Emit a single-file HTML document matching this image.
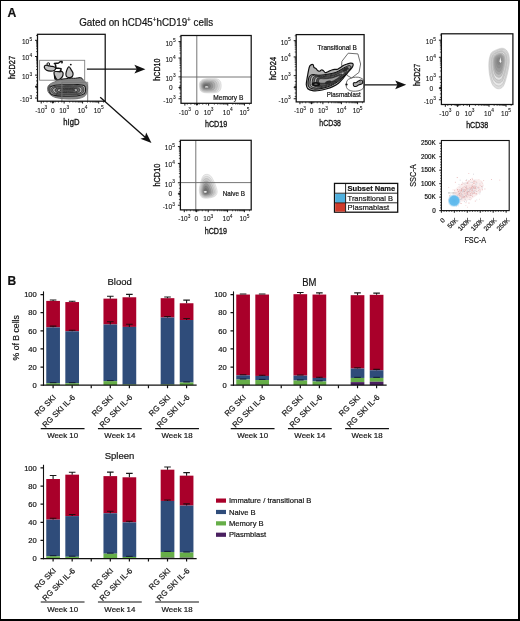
<!DOCTYPE html>
<html><head><meta charset="utf-8"><style>
html,body{margin:0;padding:0;background:#fff;}
body{width:520px;height:621px;overflow:hidden;position:relative;font-family:"Liberation Sans",sans-serif;}
svg{position:absolute;left:0;top:0;display:block;will-change:transform;}
text{stroke:#1a1a1a;stroke-width:0.2px;}
.frame{position:absolute;left:0;top:0;width:520px;height:621px;box-sizing:border-box;border-style:solid;border-color:#000;border-width:1.5px 2px 2px 1.5px;}
</style></head><body>
<svg width="520" height="621" viewBox="0 0 520 621" font-family="'Liberation Sans', sans-serif" fill="#111"><rect x="0" y="0" width="520" height="621" fill="#fff"/><text x="7.5" y="17.1" font-size="12.2" font-weight="bold">A</text><text x="79.2" y="25.8" font-size="10" textLength="134" lengthAdjust="spacingAndGlyphs">Gated on hCD45<tspan font-size="6.5" dy="-3.8">+</tspan><tspan dy="3.8">hCD19</tspan><tspan font-size="6.5" dy="-3.8">+</tspan><tspan dy="3.8"> cells</tspan></text><path d="M47.7,87.3 C47.95,86.13 48.62,85.3 49.5,84.5 C50.38,83.7 51.83,83.05 53,82.5 C54.17,81.95 55.53,81.65 56.5,81.2 C57.47,80.75 57.88,80.17 58.8,79.8 C59.72,79.43 60.8,79.1 62,79 C63.2,78.9 64.67,79.27 66,79.2 C67.33,79.13 68.67,78.65 70,78.6 C71.33,78.55 72.67,78.9 74,78.9 C75.33,78.9 76.8,78.68 78,78.6 C79.2,78.52 80.37,78.23 81.2,78.4 C82.03,78.57 82.32,79.03 83,79.6 C83.68,80.17 84.58,80.93 85.3,81.8 C86.02,82.67 86.92,83.6 87.3,84.8 C87.68,86 87.72,87.55 87.6,89 C87.48,90.45 87.2,92.23 86.6,93.5 C86,94.77 85.35,95.77 84,96.6 C82.65,97.43 80.55,98.1 78.5,98.5 C76.45,98.9 74.12,98.95 71.7,99 C69.28,99.05 66.62,99.03 64,98.8 C61.38,98.57 58.17,98.2 56,97.6 C53.83,97 52.33,96.22 51,95.2 C49.67,94.18 48.55,92.82 48,91.5 C47.45,90.18 47.45,88.47 47.7,87.3Z" fill="#a0a0a0" stroke="#5a5a5a" stroke-width="0.8"/><path d="M48.51,87.47 C48.75,86.42 49.39,85.67 50.24,84.95 C51.09,84.23 52.48,83.65 53.6,83.15 C54.72,82.66 56.03,82.39 56.96,81.98 C57.89,81.58 58.29,81.05 59.17,80.72 C60.05,80.39 61.09,80.09 62.24,80 C63.39,79.91 64.8,80.24 66.08,80.18 C67.36,80.12 68.64,79.69 69.92,79.64 C71.2,79.59 72.48,79.91 73.76,79.91 C75.04,79.91 76.45,79.72 77.6,79.64 C78.75,79.56 79.87,79.31 80.67,79.46 C81.47,79.61 81.74,80.03 82.4,80.54 C83.06,81.05 83.92,81.74 84.61,82.52 C85.3,83.3 86.16,84.14 86.53,85.22 C86.9,86.3 86.93,87.69 86.82,89 C86.7,90.31 86.43,91.91 85.86,93.05 C85.28,94.19 84.66,95.09 83.36,95.84 C82.06,96.59 80.05,97.19 78.08,97.55 C76.11,97.91 73.87,97.95 71.55,98 C69.23,98.05 66.67,98.03 64.16,97.82 C61.65,97.61 58.56,97.28 56.48,96.74 C54.4,96.2 52.96,95.5 51.68,94.58 C50.4,93.66 49.33,92.44 48.8,91.25 C48.27,90.06 48.27,88.52 48.51,87.47Z" fill="#8a8a8a" stroke="#777" stroke-width="0.5"/><path d="M49,90 C48.83,88.73 49.5,87.6 50.5,86.8 C51.5,86 53.08,85.53 55,85.2 C56.92,84.87 59.5,84.85 62,84.8 C64.5,84.75 67.33,84.93 70,84.9 C72.67,84.87 75.67,84.48 78,84.6 C80.33,84.72 82.73,84.87 84,85.6 C85.27,86.33 85.55,87.67 85.6,89 C85.65,90.33 85.57,92.47 84.3,93.6 C83.03,94.73 80.72,95.37 78,95.8 C75.28,96.23 71.33,96.18 68,96.2 C64.67,96.22 60.75,96.2 58,95.9 C55.25,95.6 53,95.38 51.5,94.4 C50,93.42 49.17,91.27 49,90Z" fill="#b8b8b8" stroke="#1a1a1a" stroke-width="1.1"/><path d="M50.85,90.06 C50.7,89.05 51.3,88.14 52.2,87.5 C53.1,86.86 54.52,86.49 56.25,86.22 C57.98,85.95 60.3,85.94 62.55,85.9 C64.8,85.86 67.35,86.01 69.75,85.98 C72.15,85.95 74.85,85.65 76.95,85.74 C79.05,85.83 81.21,85.95 82.35,86.54 C83.49,87.13 83.74,88.19 83.79,89.26 C83.83,90.33 83.76,92.03 82.62,92.94 C81.48,93.85 79.4,94.35 76.95,94.7 C74.5,95.05 70.95,95.01 67.95,95.02 C64.95,95.03 61.43,95.02 58.95,94.78 C56.48,94.54 54.45,94.37 53.1,93.58 C51.75,92.79 51,91.07 50.85,90.06Z" fill="#808080" stroke="#1a1a1a" stroke-width="0.7"/><path d="M52.7,90.11 C52.57,89.33 53.1,88.63 53.9,88.13 C54.7,87.63 55.97,87.34 57.5,87.14 C59.03,86.93 61.1,86.92 63.1,86.89 C65.1,86.86 67.37,86.97 69.5,86.95 C71.63,86.93 74.03,86.69 75.9,86.77 C77.77,86.84 79.69,86.93 80.7,87.39 C81.71,87.84 81.94,88.67 81.98,89.49 C82.02,90.32 81.95,91.64 80.94,92.35 C79.93,93.05 78.07,93.44 75.9,93.71 C73.73,93.98 70.57,93.95 67.9,93.96 C65.23,93.97 62.1,93.96 59.9,93.77 C57.7,93.59 55.9,93.45 54.7,92.84 C53.5,92.23 52.83,90.9 52.7,90.11Z" fill="#b8b8b8" stroke="#1a1a1a" stroke-width="0.7"/><path d="M54.92,90.16 C54.81,89.58 55.26,89.06 55.94,88.69 C56.62,88.32 57.7,88.11 59,87.95 C60.3,87.8 62.06,87.79 63.76,87.77 C65.46,87.75 67.39,87.83 69.2,87.82 C71.01,87.8 73.05,87.62 74.64,87.68 C76.23,87.73 77.86,87.8 78.72,88.14 C79.58,88.48 79.77,89.09 79.81,89.7 C79.84,90.32 79.79,91.3 78.92,91.82 C78.06,92.34 76.49,92.63 74.64,92.83 C72.79,93.03 70.11,93.01 67.84,93.01 C65.57,93.02 62.91,93.01 61.04,92.88 C59.17,92.74 57.64,92.64 56.62,92.19 C55.6,91.73 55.03,90.74 54.92,90.16Z" fill="#6a6a6a" stroke="#1a1a1a" stroke-width="0.7"/><path d="M57.33,90.2 C57.23,89.8 57.6,89.44 58.15,89.18 C58.7,88.92 59.57,88.77 60.62,88.67 C61.68,88.56 63.1,88.56 64.47,88.54 C65.85,88.52 67.41,88.58 68.88,88.57 C70.34,88.56 71.99,88.44 73.28,88.48 C74.56,88.51 75.88,88.56 76.58,88.8 C77.27,89.03 77.43,89.46 77.45,89.88 C77.48,90.31 77.44,90.99 76.74,91.36 C76.04,91.72 74.77,91.92 73.28,92.06 C71.78,92.2 69.61,92.18 67.78,92.19 C65.94,92.19 63.79,92.19 62.27,92.09 C60.76,92 59.53,91.93 58.7,91.61 C57.88,91.3 57.42,90.61 57.33,90.2Z" fill="#b0b0b0" stroke="#1a1a1a" stroke-width="0.7"/><path d="M60.1,90.25 C60.03,90.02 60.3,89.81 60.7,89.67 C61.1,89.53 61.73,89.44 62.5,89.38 C63.27,89.32 64.3,89.32 65.3,89.31 C66.3,89.3 67.43,89.33 68.5,89.33 C69.57,89.32 70.77,89.25 71.7,89.27 C72.63,89.3 73.59,89.32 74.1,89.45 C74.61,89.59 74.72,89.83 74.74,90.07 C74.76,90.31 74.73,90.69 74.22,90.89 C73.71,91.1 72.79,91.21 71.7,91.29 C70.61,91.37 69.03,91.36 67.7,91.36 C66.37,91.36 64.8,91.36 63.7,91.31 C62.6,91.25 61.7,91.22 61.1,91.04 C60.5,90.86 60.17,90.47 60.1,90.25Z" fill="#555" stroke="#1a1a1a" stroke-width="0.7"/><path d="M44.3,67.3 C44.13,66.48 44.98,65.58 45.6,65.3 C46.22,65.02 47.1,65.43 48,65.6 C48.9,65.77 50,66.1 51,66.3 C52,66.5 53.23,66.48 54,66.8 C54.77,67.12 55.57,67.6 55.6,68.2 C55.63,68.8 55.02,69.92 54.2,70.4 C53.38,70.88 51.97,71.13 50.7,71.1 C49.43,71.07 47.67,70.83 46.6,70.2 C45.53,69.57 44.47,68.12 44.3,67.3Z" fill="#c2c2c2" stroke="#111" stroke-width="1.2"/><circle cx="48.3" cy="64.1" r="1.35" fill="#e0e0e0" stroke="#111" stroke-width="1"/><path d="M54.2,71.8 C54.8,71.15 56.63,71.6 58,71.6 C59.37,71.6 61.58,71.15 62.4,71.8 C63.22,72.45 63.22,74.33 62.9,75.5 C62.58,76.67 61.4,78.05 60.5,78.8 C59.6,79.55 58.38,79.88 57.5,80 C56.62,80.12 55.72,80.25 55.2,79.5 C54.68,78.75 54.57,76.78 54.4,75.5 C54.23,74.22 53.6,72.45 54.2,71.8Z" fill="#bcbcbc" stroke="#111" stroke-width="1.2"/><path d="M54.4,63.6 C56,63.3 57.6,63.4 58.4,63.1 C59.4,62.7 60.2,61.2 61.4,61.3 C62.3,61.4 62.4,62.3 61.8,62.8 M55.3,63.8 C55.6,65.6 55.8,67.2 56.2,68.3 C57.6,68.3 59.5,68 61,68.6 C61.3,69.6 60.8,70.8 60,71.6" stroke="#111" stroke-width="1.5" fill="none" stroke-linecap="round"/><path d="M68.8,66.8 C69.63,66.4 70.5,68.73 71.2,69.8 C71.9,70.87 72.82,72.08 73,73.2 C73.18,74.32 73,75.77 72.3,76.5 C71.6,77.23 69.82,77.68 68.8,77.6 C67.78,77.52 66.63,76.9 66.2,76 C65.77,75.1 65.77,73.73 66.2,72.2 C66.63,70.67 67.97,67.2 68.8,66.8Z" fill="#c0c0c0" stroke="#111" stroke-width="1.2"/><circle cx="70.8" cy="64.6" r="0.9" fill="#111"/><path d="M60.5,79.6 C63,78.8 65,79 67,78.6 C69,78.2 71,77.9 73.5,78.3 C76,78.6 78.5,77.4 80.5,77.6 C81.8,77.8 82.4,78.6 82.4,79.6" stroke="#111" stroke-width="1" fill="none"/><path d="M54.2,75.5 C54.6,77.5 55.2,79.3 56.2,80.6 L58.4,80.2 C57.2,79.2 56,77.6 55.4,75.6 Z" fill="#111"/><path d="M47.8,88 C48.2,86.2 49.2,85 50.2,84.4 L50.6,92.8 C49.4,92 48.2,90.4 47.8,88 Z" fill="#555"/><rect x="39.6" y="60.3" width="45.1" height="19.9" fill="none" stroke="#808080" stroke-width="0.9"/><path d="M61.9,101.2 V82.3 H87.7 V101.2" stroke="#777" stroke-width="0.9" fill="none"/><path d="M41.22,101.2v2.3 M37.5,98.06h-2.5 M52.8,101.2v2.3 M37.5,86.68h-2.5 M64.11,101.2v2.3 M37.5,75.11h-2.5 M82.59,101.2v2.3 M37.5,56.51h-2.5 M98.7,101.2v2.3 M37.5,40.32h-2.5" stroke="#111" stroke-width="0.95" fill="none"/><path d="M43.54,101.2v1.4 M37.5,95.78h-1.5 M47.01,101.2v1.4 M37.5,92.37h-1.5 M50.48,101.2v1.4 M37.5,88.96h-1.5 M55.06,101.2v1.4 M37.5,84.37h-1.5 M58.45,101.2v1.4 M37.5,80.9h-1.5 M61.84,101.2v1.4 M37.5,77.42h-1.5 M69.67,101.2v1.4 M37.5,69.51h-1.5 M72.92,101.2v1.4 M37.5,66.24h-1.5 M75.23,101.2v1.4 M37.5,63.91h-1.5 M77.02,101.2v1.4 M37.5,62.11h-1.5 M78.49,101.2v1.4 M37.5,60.64h-1.5 M79.73,101.2v1.4 M37.5,59.39h-1.5 M80.8,101.2v1.4 M37.5,58.31h-1.5 M81.74,101.2v1.4 M37.5,57.36h-1.5 M87.44,101.2v1.4 M37.5,51.64h-1.5 M90.28,101.2v1.4 M37.5,48.79h-1.5 M92.29,101.2v1.4 M37.5,46.76h-1.5 M93.85,101.2v1.4 M37.5,45.19h-1.5 M95.13,101.2v1.4 M37.5,43.91h-1.5 M96.2,101.2v1.4 M37.5,42.83h-1.5 M97.14,101.2v1.4 M37.5,41.89h-1.5 M97.96,101.2v1.4 M37.5,41.06h-1.5 M103.55,101.2v1.4 M37.5,35.45h-1.5" stroke="#111" stroke-width="0.7" fill="none"/><rect x="51.64" y="101.2" width="2.29" height="1.7" fill="#222"/><rect x="35.6" y="85.53" width="1.9" height="2.29" fill="#222"/><rect x="37.5" y="34.3" width="67.7" height="66.9" fill="none" stroke="#111" stroke-width="1.25"/><text x="41.22" y="112.5" font-size="6.5" text-anchor="middle" style="stroke-width:0.1px">-10<tspan font-size="4.8" dy="-3.4">3</tspan></text><text x="52.8" y="112.5" font-size="6.5" style="stroke-width:0.1px" text-anchor="middle">0</text><text x="64.11" y="112.5" font-size="6.5" text-anchor="middle" style="stroke-width:0.1px">10<tspan font-size="4.8" dy="-3.4">3</tspan></text><text x="82.59" y="112.5" font-size="6.5" text-anchor="middle" style="stroke-width:0.1px">10<tspan font-size="4.8" dy="-3.4">4</tspan></text><text x="98.7" y="112.5" font-size="6.5" text-anchor="middle" style="stroke-width:0.1px">10<tspan font-size="4.8" dy="-3.4">5</tspan></text><text x="29.2" y="101.96" font-size="6.5" style="stroke-width:0.1px" text-anchor="end">-10</text><text x="29.4" y="98.56" font-size="4.8" style="stroke-width:0.1px">3</text><text x="29.2" y="79.01" font-size="6.5" style="stroke-width:0.1px" text-anchor="end">10</text><text x="29.4" y="75.61" font-size="4.8" style="stroke-width:0.1px">3</text><text x="29.2" y="60.41" font-size="6.5" style="stroke-width:0.1px" text-anchor="end">10</text><text x="29.4" y="57.01" font-size="4.8" style="stroke-width:0.1px">4</text><text x="29.2" y="44.22" font-size="6.5" style="stroke-width:0.1px" text-anchor="end">10</text><text x="29.4" y="40.82" font-size="4.8" style="stroke-width:0.1px">5</text><text x="71.35" y="125" font-size="9.1" style="stroke-width:0.35px" text-anchor="middle" textLength="16.2" lengthAdjust="spacingAndGlyphs">hIgD</text><text x="15" y="67.45" font-size="9.1" style="stroke-width:0.35px" text-anchor="middle" textLength="23.2" lengthAdjust="spacingAndGlyphs" transform="rotate(-90 15 67.45)">hCD27</text><path d="M199.4,84 C199.55,82.23 200.4,81.08 201.5,80.2 C202.6,79.32 204.25,78.97 206,78.7 C207.75,78.43 210,78.52 212,78.6 C214,78.68 216.53,78.55 218,79.2 C219.47,79.85 220.3,81.03 220.8,82.5 C221.3,83.97 221.38,86.45 221,88 C220.62,89.55 220,91 218.5,91.8 C217,92.6 214.25,92.65 212,92.8 C209.75,92.95 206.9,93.03 205,92.7 C203.1,92.37 201.53,92.25 200.6,90.8 C199.67,89.35 199.25,85.77 199.4,84Z" fill="#e8e8e8" stroke="#c4c4c4" stroke-width="0.45"/><path d="M200.07,84.26 C200.2,82.71 200.95,81.7 201.92,80.92 C202.89,80.14 204.34,79.83 205.88,79.6 C207.42,79.37 209.4,79.44 211.16,79.51 C212.92,79.59 215.15,79.47 216.44,80.04 C217.73,80.61 218.46,81.65 218.9,82.94 C219.34,84.23 219.42,86.42 219.08,87.78 C218.74,89.15 218.2,90.42 216.88,91.13 C215.56,91.83 213.14,91.88 211.16,92.01 C209.18,92.14 206.67,92.21 205,91.92 C203.33,91.63 201.95,91.52 201.13,90.25 C200.31,88.97 199.94,85.82 200.07,84.26Z" fill="#d8d8d8" stroke="#bdbdbd" stroke-width="0.45"/><path d="M200.74,84.53 C200.86,83.19 201.5,82.31 202.34,81.64 C203.18,80.97 204.43,80.7 205.76,80.5 C207.09,80.3 208.8,80.36 210.32,80.42 C211.84,80.49 213.77,80.39 214.88,80.88 C215.99,81.37 216.63,82.27 217.01,83.39 C217.39,84.5 217.45,86.39 217.16,87.57 C216.87,88.75 216.4,89.85 215.26,90.46 C214.12,91.06 212.03,91.1 210.32,91.22 C208.61,91.33 206.44,91.39 205,91.14 C203.56,90.89 202.37,90.8 201.66,89.7 C200.95,88.59 200.63,85.87 200.74,84.53Z" fill="#c4c4c4" stroke="#aaa" stroke-width="0.45"/><path d="M201.53,84.84 C201.62,83.74 202.15,83.03 202.83,82.48 C203.51,81.93 204.53,81.72 205.62,81.55 C206.71,81.38 208.1,81.44 209.34,81.49 C210.58,81.54 212.15,81.46 213.06,81.86 C213.97,82.26 214.49,83 214.8,83.91 C215.11,84.82 215.16,86.36 214.92,87.32 C214.68,88.28 214.3,89.18 213.37,89.67 C212.44,90.17 210.74,90.2 209.34,90.29 C207.94,90.39 206.18,90.44 205,90.23 C203.82,90.02 202.85,89.95 202.27,89.05 C201.69,88.15 201.44,85.93 201.53,84.84Z" fill="#ababab" stroke="#999" stroke-width="0.45"/><path d="M202.31,85.14 C202.38,84.3 202.79,83.74 203.32,83.32 C203.85,82.9 204.64,82.73 205.48,82.6 C206.32,82.47 207.4,82.51 208.36,82.55 C209.32,82.59 210.54,82.53 211.24,82.84 C211.94,83.15 212.34,83.72 212.58,84.42 C212.82,85.13 212.86,86.32 212.68,87.06 C212.5,87.81 212.2,88.5 211.48,88.89 C210.76,89.27 209.44,89.3 208.36,89.37 C207.28,89.44 205.91,89.48 205,89.32 C204.09,89.16 203.34,89.1 202.89,88.41 C202.44,87.71 202.24,85.99 202.31,85.14Z" fill="#929292" stroke="#888" stroke-width="0.45"/><path d="M203.1,85.45 C203.15,84.85 203.44,84.46 203.81,84.16 C204.18,83.86 204.75,83.74 205.34,83.65 C205.94,83.56 206.7,83.59 207.38,83.62 C208.06,83.64 208.92,83.6 209.42,83.82 C209.92,84.04 210.2,84.44 210.37,84.94 C210.54,85.44 210.57,86.28 210.44,86.81 C210.31,87.34 210.1,87.83 209.59,88.1 C209.08,88.38 208.14,88.39 207.38,88.44 C206.62,88.5 205.65,88.52 205,88.41 C204.35,88.3 203.82,88.26 203.5,87.76 C203.19,87.27 203.05,86.05 203.1,85.45Z" fill="#7a7a7a" stroke="#777" stroke-width="0.45"/><path d="M203.88,85.76 C203.91,85.41 204.08,85.18 204.3,85 C204.52,84.82 204.85,84.75 205.2,84.7 C205.55,84.65 206,84.66 206.4,84.68 C206.8,84.7 207.31,84.67 207.6,84.8 C207.89,84.93 208.06,85.17 208.16,85.46 C208.26,85.75 208.28,86.25 208.2,86.56 C208.12,86.87 208,87.16 207.7,87.32 C207.4,87.48 206.85,87.49 206.4,87.52 C205.95,87.55 205.38,87.57 205,87.5 C204.62,87.43 204.31,87.41 204.12,87.12 C203.93,86.83 203.85,86.11 203.88,85.76Z" fill="#6a6a6a" stroke="#666" stroke-width="0.45"/><ellipse cx="206.6" cy="86.9" rx="1.8" ry="0.7" fill="#f4f4f4"/><line x1="196.8" y1="35.5" x2="196.8" y2="103.3" stroke="#666" stroke-width="0.9"/><line x1="181" y1="77" x2="251.2" y2="77" stroke="#666" stroke-width="0.9"/><text x="243.3" y="100.4" font-size="6.5" text-anchor="end" textLength="30" lengthAdjust="spacingAndGlyphs">Memory B</text><path d="M184.86,103.3v2.3 M181,98.76h-2.5 M196.87,103.3v2.3 M181,87.57h-2.5 M208.59,103.3v2.3 M181,76.86h-2.5 M227.75,103.3v2.3 M181,58.01h-2.5 M244.46,103.3v2.3 M181,41.6h-2.5" stroke="#111" stroke-width="0.95" fill="none"/><path d="M187.26,103.3v1.4 M181,96.52h-1.5 M190.86,103.3v1.4 M181,93.16h-1.5 M194.46,103.3v1.4 M181,89.81h-1.5 M199.21,103.3v1.4 M181,85.43h-1.5 M202.73,103.3v1.4 M181,82.21h-1.5 M206.24,103.3v1.4 M181,79h-1.5 M214.36,103.3v1.4 M181,71.18h-1.5 M217.73,103.3v1.4 M181,67.87h-1.5 M220.13,103.3v1.4 M181,65.51h-1.5 M221.98,103.3v1.4 M181,63.68h-1.5 M223.5,103.3v1.4 M181,62.19h-1.5 M224.78,103.3v1.4 M181,60.93h-1.5 M225.9,103.3v1.4 M181,59.84h-1.5 M226.88,103.3v1.4 M181,58.87h-1.5 M232.78,103.3v1.4 M181,53.07h-1.5 M235.72,103.3v1.4 M181,50.18h-1.5 M237.81,103.3v1.4 M181,48.13h-1.5 M239.43,103.3v1.4 M181,46.54h-1.5 M240.75,103.3v1.4 M181,45.24h-1.5 M241.87,103.3v1.4 M181,44.14h-1.5 M242.84,103.3v1.4 M181,43.19h-1.5 M243.7,103.3v1.4 M181,42.35h-1.5 M249.49,103.3v1.4 M181,36.66h-1.5" stroke="#111" stroke-width="0.7" fill="none"/><rect x="195.66" y="103.3" width="2.37" height="1.7" fill="#222"/><rect x="179.1" y="86.5" width="1.9" height="2.19" fill="#222"/><rect x="181" y="35.5" width="70.2" height="67.8" fill="none" stroke="#111" stroke-width="1.25"/><text x="184.86" y="114.6" font-size="6.5" text-anchor="middle" style="stroke-width:0.1px">-10<tspan font-size="4.8" dy="-3.4">3</tspan></text><text x="196.87" y="114.6" font-size="6.5" style="stroke-width:0.1px" text-anchor="middle">0</text><text x="208.59" y="114.6" font-size="6.5" text-anchor="middle" style="stroke-width:0.1px">10<tspan font-size="4.8" dy="-3.4">3</tspan></text><text x="227.75" y="114.6" font-size="6.5" text-anchor="middle" style="stroke-width:0.1px">10<tspan font-size="4.8" dy="-3.4">4</tspan></text><text x="244.46" y="114.6" font-size="6.5" text-anchor="middle" style="stroke-width:0.1px">10<tspan font-size="4.8" dy="-3.4">5</tspan></text><text x="172.7" y="102.66" font-size="6.5" style="stroke-width:0.1px" text-anchor="end">-10</text><text x="172.9" y="99.26" font-size="4.8" style="stroke-width:0.1px">3</text><text x="172.7" y="90.27" font-size="6.5" style="stroke-width:0.1px" text-anchor="end">0</text><text x="172.7" y="80.76" font-size="6.5" style="stroke-width:0.1px" text-anchor="end">10</text><text x="172.9" y="77.36" font-size="4.8" style="stroke-width:0.1px">3</text><text x="172.7" y="61.91" font-size="6.5" style="stroke-width:0.1px" text-anchor="end">10</text><text x="172.9" y="58.51" font-size="4.8" style="stroke-width:0.1px">4</text><text x="172.7" y="45.5" font-size="6.5" style="stroke-width:0.1px" text-anchor="end">10</text><text x="172.9" y="42.1" font-size="4.8" style="stroke-width:0.1px">5</text><text x="216.1" y="127.1" font-size="9.1" style="stroke-width:0.35px" text-anchor="middle" textLength="22.3" lengthAdjust="spacingAndGlyphs">hCD19</text><text x="160.3" y="69.6" font-size="9.1" style="stroke-width:0.35px" text-anchor="middle" textLength="22.2" lengthAdjust="spacingAndGlyphs" transform="rotate(-90 160.3 69.6)">hCD10</text><path d="M206.8,174.3 C207.97,174.35 209.38,174.77 210.5,175.8 C211.62,176.83 212.62,178.8 213.5,180.5 C214.38,182.2 215.18,184.05 215.8,186 C216.42,187.95 217.42,190.45 217.2,192.2 C216.98,193.95 216.33,195.48 214.5,196.5 C212.67,197.52 208.45,198.3 206.2,198.3 C203.95,198.3 202.15,197.83 201,196.5 C199.85,195.17 199.43,192.38 199.3,190.3 C199.17,188.22 199.83,185.8 200.2,184 C200.57,182.2 200.95,180.92 201.5,179.5 C202.05,178.08 202.62,176.37 203.5,175.5 C204.38,174.63 205.63,174.25 206.8,174.3Z" fill="#ececec" stroke="#c8c8c8" stroke-width="0.45"/><path d="M206.64,176.42 C207.67,176.47 208.92,176.83 209.9,177.74 C210.88,178.65 211.76,180.38 212.54,181.88 C213.32,183.38 214.02,185 214.56,186.72 C215.11,188.44 215.99,190.64 215.8,192.18 C215.61,193.72 215.03,195.07 213.42,195.96 C211.81,196.85 208.1,197.54 206.12,197.54 C204.14,197.54 202.55,197.13 201.54,195.96 C200.53,194.79 200.16,192.34 200.04,190.5 C199.93,188.67 200.51,186.54 200.84,184.96 C201.16,183.38 201.5,182.25 201.98,181 C202.46,179.75 202.96,178.24 203.74,177.48 C204.52,176.72 205.62,176.38 206.64,176.42Z" fill="#dedede" stroke="#bcbcbc" stroke-width="0.45"/><path d="M206.49,178.55 C207.37,178.59 208.45,178.9 209.3,179.69 C210.15,180.47 210.91,181.97 211.58,183.26 C212.25,184.55 212.86,185.96 213.33,187.44 C213.8,188.92 214.56,190.82 214.39,192.15 C214.23,193.48 213.73,194.65 212.34,195.42 C210.95,196.19 207.74,196.79 206.03,196.79 C204.32,196.79 202.95,196.43 202.08,195.42 C201.21,194.41 200.89,192.29 200.79,190.71 C200.69,189.12 201.19,187.29 201.47,185.92 C201.75,184.55 202.04,183.58 202.46,182.5 C202.88,181.42 203.31,180.12 203.98,179.46 C204.65,178.8 205.6,178.51 206.49,178.55Z" fill="#cacaca" stroke="#aaa" stroke-width="0.45"/><path d="M206.31,181.03 C207.03,181.06 207.91,181.32 208.6,181.96 C209.29,182.6 209.91,183.82 210.46,184.87 C211.01,185.92 211.5,187.07 211.89,188.28 C212.27,189.49 212.89,191.04 212.75,192.12 C212.62,193.21 212.22,194.16 211.08,194.79 C209.94,195.42 207.33,195.91 205.93,195.91 C204.54,195.91 203.42,195.62 202.71,194.79 C202,193.96 201.74,192.24 201.66,190.95 C201.57,189.65 201.99,188.16 202.21,187.04 C202.44,185.92 202.68,185.13 203.02,184.25 C203.36,183.37 203.71,182.31 204.26,181.77 C204.81,181.23 205.58,181 206.31,181.03Z" fill="#b0b0b0" stroke="#999" stroke-width="0.45"/><path d="M206.12,183.5 C206.68,183.53 207.36,183.73 207.9,184.22 C208.44,184.72 208.92,185.66 209.34,186.48 C209.76,187.3 210.15,188.18 210.44,189.12 C210.74,190.06 211.22,191.26 211.12,192.1 C211.01,192.94 210.7,193.67 209.82,194.16 C208.94,194.65 206.92,195.02 205.84,195.02 C204.76,195.02 203.89,194.8 203.34,194.16 C202.79,193.52 202.59,192.18 202.52,191.18 C202.46,190.18 202.78,189.02 202.96,188.16 C203.13,187.3 203.32,186.68 203.58,186 C203.84,185.32 204.12,184.5 204.54,184.08 C204.96,183.66 205.56,183.48 206.12,183.5Z" fill="#959595" stroke="#888" stroke-width="0.45"/><path d="M205.94,185.98 C206.34,186 206.82,186.14 207.2,186.49 C207.58,186.84 207.92,187.51 208.22,188.09 C208.52,188.67 208.79,189.3 209,189.96 C209.21,190.62 209.55,191.47 209.48,192.07 C209.4,192.66 209.18,193.18 208.56,193.53 C207.94,193.88 206.5,194.14 205.74,194.14 C204.97,194.14 204.36,193.98 203.97,193.53 C203.58,193.08 203.44,192.13 203.39,191.42 C203.35,190.71 203.57,189.89 203.7,189.28 C203.82,188.67 203.95,188.23 204.14,187.75 C204.33,187.27 204.52,186.68 204.82,186.39 C205.12,186.1 205.55,185.97 205.94,185.98Z" fill="#7e7e7e" stroke="#777" stroke-width="0.45"/><path d="M205.76,188.46 C205.99,188.47 206.28,188.55 206.5,188.76 C206.72,188.97 206.92,189.36 207.1,189.7 C207.28,190.04 207.44,190.41 207.56,190.8 C207.68,191.19 207.88,191.69 207.84,192.04 C207.8,192.39 207.67,192.7 207.3,192.9 C206.93,193.1 206.09,193.26 205.64,193.26 C205.19,193.26 204.83,193.17 204.6,192.9 C204.37,192.63 204.29,192.08 204.26,191.66 C204.23,191.24 204.37,190.76 204.44,190.4 C204.51,190.04 204.59,189.78 204.7,189.5 C204.81,189.22 204.92,188.87 205.1,188.7 C205.28,188.53 205.53,188.45 205.76,188.46Z" fill="#707070" stroke="#666" stroke-width="0.45"/><ellipse cx="205.3" cy="191.8" rx="1.6" ry="0.9" fill="#f2f2f2"/><line x1="195.8" y1="140.3" x2="195.8" y2="209.9" stroke="#666" stroke-width="0.9"/><line x1="180.4" y1="182.6" x2="251.2" y2="182.6" stroke="#666" stroke-width="0.9"/><text x="245" y="196.2" font-size="6.5" text-anchor="end" textLength="22.3" lengthAdjust="spacingAndGlyphs">Naive B</text><path d="M184.29,209.9v2.3 M180.4,205.24h-2.5 M196.4,209.9v2.3 M180.4,193.75h-2.5 M208.22,209.9v2.3 M180.4,182.76h-2.5 M227.55,209.9v2.3 M180.4,163.41h-2.5 M244.4,209.9v2.3 M180.4,146.56h-2.5" stroke="#111" stroke-width="0.95" fill="none"/><path d="M186.72,209.9v1.4 M180.4,202.94h-1.5 M190.35,209.9v1.4 M180.4,199.49h-1.5 M193.98,209.9v1.4 M180.4,196.05h-1.5 M198.77,209.9v1.4 M180.4,191.55h-1.5 M202.31,209.9v1.4 M180.4,188.25h-1.5 M205.86,209.9v1.4 M180.4,184.96h-1.5 M214.04,209.9v1.4 M180.4,176.93h-1.5 M217.45,209.9v1.4 M180.4,173.52h-1.5 M219.86,209.9v1.4 M180.4,171.11h-1.5 M221.73,209.9v1.4 M180.4,169.23h-1.5 M223.26,209.9v1.4 M180.4,167.7h-1.5 M224.56,209.9v1.4 M180.4,166.4h-1.5 M225.68,209.9v1.4 M180.4,165.28h-1.5 M226.67,209.9v1.4 M180.4,164.29h-1.5 M232.63,209.9v1.4 M180.4,158.34h-1.5 M235.59,209.9v1.4 M180.4,155.37h-1.5 M237.7,209.9v1.4 M180.4,153.27h-1.5 M239.33,209.9v1.4 M180.4,151.63h-1.5 M240.66,209.9v1.4 M180.4,150.3h-1.5 M241.79,209.9v1.4 M180.4,149.17h-1.5 M242.77,209.9v1.4 M180.4,148.2h-1.5 M243.63,209.9v1.4 M180.4,147.33h-1.5 M249.48,209.9v1.4 M180.4,141.49h-1.5" stroke="#111" stroke-width="0.7" fill="none"/><rect x="195.19" y="209.9" width="2.39" height="1.7" fill="#222"/><rect x="178.5" y="192.65" width="1.9" height="2.25" fill="#222"/><rect x="180.4" y="140.3" width="70.8" height="69.6" fill="none" stroke="#111" stroke-width="1.25"/><text x="184.29" y="221.2" font-size="6.5" text-anchor="middle" style="stroke-width:0.1px">-10<tspan font-size="4.8" dy="-3.4">3</tspan></text><text x="196.4" y="221.2" font-size="6.5" style="stroke-width:0.1px" text-anchor="middle">0</text><text x="208.22" y="221.2" font-size="6.5" text-anchor="middle" style="stroke-width:0.1px">10<tspan font-size="4.8" dy="-3.4">3</tspan></text><text x="227.55" y="221.2" font-size="6.5" text-anchor="middle" style="stroke-width:0.1px">10<tspan font-size="4.8" dy="-3.4">4</tspan></text><text x="244.4" y="221.2" font-size="6.5" text-anchor="middle" style="stroke-width:0.1px">10<tspan font-size="4.8" dy="-3.4">5</tspan></text><text x="172.1" y="209.14" font-size="6.5" style="stroke-width:0.1px" text-anchor="end">-10</text><text x="172.3" y="205.74" font-size="4.8" style="stroke-width:0.1px">3</text><text x="172.1" y="196.45" font-size="6.5" style="stroke-width:0.1px" text-anchor="end">0</text><text x="172.1" y="186.66" font-size="6.5" style="stroke-width:0.1px" text-anchor="end">10</text><text x="172.3" y="183.26" font-size="4.8" style="stroke-width:0.1px">3</text><text x="172.1" y="167.31" font-size="6.5" style="stroke-width:0.1px" text-anchor="end">10</text><text x="172.3" y="163.91" font-size="4.8" style="stroke-width:0.1px">4</text><text x="172.1" y="150.46" font-size="6.5" style="stroke-width:0.1px" text-anchor="end">10</text><text x="172.3" y="147.06" font-size="4.8" style="stroke-width:0.1px">5</text><text x="215.8" y="233.7" font-size="9.1" style="stroke-width:0.35px" text-anchor="middle" textLength="22.3" lengthAdjust="spacingAndGlyphs">hCD19</text><text x="160.3" y="175.1" font-size="9.1" style="stroke-width:0.35px" text-anchor="middle" textLength="22.9" lengthAdjust="spacingAndGlyphs" transform="rotate(-90 160.3 175.1)">hCD10</text><path d="M348.2,53.2 L357.9,53.9 L360.6,64 L359,72.4 L351.6,78 L347.1,75.4 L341.6,65 L341.9,61.3 Z" fill="none" stroke="#555" stroke-width="0.85"/><path d="M347.1,80.6 C347.73,79.45 348.98,79.12 350,78.6 C351.02,78.08 351.83,77.73 353.2,77.5 C354.57,77.27 356.68,76.98 358.2,77.2 C359.72,77.42 361.32,78.08 362.3,78.8 C363.28,79.52 363.88,80.05 364.1,81.5 C364.32,82.95 364.22,86.05 363.6,87.5 C362.98,88.95 361.75,89.58 360.4,90.2 C359.05,90.82 357.1,91.1 355.5,91.2 C353.9,91.3 352.17,91.2 350.8,90.8 C349.43,90.4 348.07,89.68 347.3,88.8 C346.53,87.92 346.23,86.87 346.2,85.5 C346.17,84.13 346.47,81.75 347.1,80.6Z" fill="none" stroke="#555" stroke-width="0.85"/><path d="M309.2,67.5 C309.68,65.97 310.05,65.57 310.7,65.1 C311.35,64.63 312.55,64.33 313.1,64.7 C313.65,65.07 313.53,66.67 314,67.3 C314.47,67.93 315.25,67.93 315.9,68.5 C316.55,69.07 317.25,70.25 317.9,70.7 C318.55,71.15 319.25,71.32 319.8,71.2 C320.35,71.08 320.63,70.13 321.2,70 C321.77,69.87 322.55,69.97 323.2,70.4 C323.85,70.83 324.47,72.3 325.1,72.6 C325.73,72.9 326.37,72.43 327,72.2 C327.63,71.97 328.1,71.57 328.9,71.2 C329.7,70.83 330.83,70.3 331.8,70 C332.77,69.7 333.73,69.52 334.7,69.4 C335.67,69.28 336.63,69.63 337.6,69.3 C338.57,68.97 339.55,68.03 340.5,67.4 C341.45,66.77 342.18,66.07 343.3,65.5 C344.42,64.93 346,64.38 347.2,64 C348.4,63.62 349.53,63.23 350.5,63.2 C351.47,63.17 352.65,63.2 353,63.8 C353.35,64.4 353.1,65.77 352.6,66.8 C352.1,67.83 350.9,68.92 350,70 C349.1,71.08 348.32,71.95 347.2,73.3 C346.08,74.65 344.75,76.45 343.3,78.1 C341.85,79.75 340.25,81.78 338.5,83.2 C336.75,84.62 334.88,85.63 332.8,86.6 C330.72,87.57 328.25,88.35 326,89 C323.75,89.65 321.53,90.23 319.3,90.5 C317.07,90.77 314.52,90.9 312.6,90.6 C310.68,90.3 308.85,89.67 307.8,88.7 C306.75,87.73 306.47,86.25 306.3,84.8 C306.13,83.35 306.55,81.75 306.8,80 C307.05,78.25 307.4,76.38 307.8,74.3 C308.2,72.22 308.72,69.03 309.2,67.5Z" fill="#b2b2b2" stroke="#111" stroke-width="1.2"/><path d="M308.4,80 C308.65,78.67 308.73,76.92 309.5,76 C310.27,75.08 311.58,74.63 313,74.5 C314.42,74.37 316.17,75.15 318,75.2 C319.83,75.25 322,75.03 324,74.8 C326,74.57 328,74.22 330,73.8 C332,73.38 334.17,73 336,72.3 C337.83,71.6 339.42,70.48 341,69.6 C342.58,68.72 344.08,67.67 345.5,67 C346.92,66.33 348.58,65.55 349.5,65.6 C350.42,65.65 351.17,66.4 351,67.3 C350.83,68.2 349.67,69.55 348.5,71 C347.33,72.45 345.75,74.25 344,76 C342.25,77.75 340.17,79.9 338,81.5 C335.83,83.1 333.5,84.48 331,85.6 C328.5,86.72 325.67,87.6 323,88.2 C320.33,88.8 317.23,89.3 315,89.2 C312.77,89.1 310.77,88.47 309.6,87.6 C308.43,86.73 308.2,85.27 308,84 C307.8,82.73 308.15,81.33 308.4,80Z" fill="#8a8a8a" stroke="#111" stroke-width="1"/><path d="M310.46,80.07 C310.68,78.92 310.76,77.42 311.45,76.63 C312.14,75.84 313.33,75.45 314.6,75.34 C315.88,75.23 317.45,75.9 319.1,75.94 C320.75,75.99 322.7,75.8 324.5,75.6 C326.3,75.4 328.1,75.1 329.9,74.74 C331.7,74.38 333.65,74.05 335.3,73.45 C336.95,72.85 338.38,71.89 339.8,71.13 C341.23,70.37 342.58,69.46 343.85,68.89 C345.12,68.32 346.62,67.64 347.45,67.69 C348.27,67.73 348.95,68.37 348.8,69.15 C348.65,69.92 347.6,71.08 346.55,72.33 C345.5,73.58 344.07,75.12 342.5,76.63 C340.93,78.13 339.05,79.98 337.1,81.36 C335.15,82.74 333.05,83.93 330.8,84.89 C328.55,85.85 326,86.61 323.6,87.12 C321.2,87.64 318.41,88.07 316.4,87.98 C314.39,87.9 312.59,87.35 311.54,86.61 C310.49,85.86 310.28,84.6 310.1,83.51 C309.92,82.42 310.24,81.22 310.46,80.07Z" fill="#c2c2c2" stroke="#151515" stroke-width="0.8"/><path d="M312.52,80.14 C312.72,79.18 312.79,77.92 313.4,77.26 C314.01,76.6 315.07,76.28 316.2,76.18 C317.33,76.08 318.73,76.65 320.2,76.68 C321.67,76.72 323.4,76.56 325,76.4 C326.6,76.23 328.2,75.98 329.8,75.68 C331.4,75.38 333.13,75.1 334.6,74.6 C336.07,74.09 337.33,73.29 338.6,72.65 C339.87,72.02 341.07,71.26 342.2,70.78 C343.33,70.3 344.67,69.74 345.4,69.77 C346.13,69.81 346.73,70.35 346.6,71 C346.47,71.64 345.53,72.62 344.6,73.66 C343.67,74.7 342.4,76 341,77.26 C339.6,78.52 337.93,80.07 336.2,81.22 C334.47,82.37 332.6,83.37 330.6,84.17 C328.6,84.98 326.33,85.61 324.2,86.04 C322.07,86.48 319.59,86.84 317.8,86.76 C316.01,86.69 314.41,86.24 313.48,85.61 C312.55,84.99 312.36,83.93 312.2,83.02 C312.04,82.11 312.32,81.1 312.52,80.14Z" fill="#6e6e6e" stroke="#151515" stroke-width="0.8"/><path d="M314.58,80.21 C314.75,79.44 314.81,78.42 315.35,77.89 C315.89,77.36 316.81,77.1 317.8,77.02 C318.79,76.94 320.02,77.4 321.3,77.43 C322.58,77.45 324.1,77.33 325.5,77.19 C326.9,77.06 328.3,76.86 329.7,76.61 C331.1,76.37 332.62,76.15 333.9,75.74 C335.18,75.34 336.29,74.69 337.4,74.18 C338.51,73.67 339.56,73.06 340.55,72.67 C341.54,72.28 342.71,71.83 343.35,71.86 C343.99,71.89 344.52,72.32 344.4,72.84 C344.28,73.37 343.47,74.15 342.65,74.99 C341.83,75.83 340.73,76.88 339.5,77.89 C338.27,78.91 336.82,80.15 335.3,81.08 C333.78,82.01 332.15,82.81 330.4,83.46 C328.65,84.11 326.67,84.62 324.8,84.97 C322.93,85.31 320.76,85.6 319.2,85.55 C317.64,85.49 316.24,85.12 315.42,84.62 C314.6,84.12 314.44,83.26 314.3,82.53 C314.16,81.8 314.4,80.98 314.58,80.21Z" fill="#b0b0b0" stroke="#151515" stroke-width="0.7"/><path d="M316.64,80.28 C316.79,79.69 316.84,78.92 317.3,78.52 C317.76,78.12 318.55,77.92 319.4,77.86 C320.25,77.8 321.3,78.15 322.4,78.17 C323.5,78.19 324.8,78.09 326,77.99 C327.2,77.89 328.4,77.74 329.6,77.55 C330.8,77.37 332.1,77.2 333.2,76.89 C334.3,76.58 335.25,76.09 336.2,75.7 C337.15,75.32 338.05,74.85 338.9,74.56 C339.75,74.27 340.75,73.92 341.3,73.94 C341.85,73.97 342.3,74.3 342.2,74.69 C342.1,75.09 341.4,75.68 340.7,76.32 C340,76.96 339.05,77.75 338,78.52 C336.95,79.29 335.7,80.24 334.4,80.94 C333.1,81.64 331.7,82.25 330.2,82.74 C328.7,83.24 327,83.62 325.4,83.89 C323.8,84.15 321.94,84.37 320.6,84.33 C319.26,84.28 318.06,84.01 317.36,83.62 C316.66,83.24 316.52,82.6 316.4,82.04 C316.28,81.48 316.49,80.87 316.64,80.28Z" fill="#505050" stroke="#151515" stroke-width="0.7"/><path d="M318.7,80.34 C318.82,79.91 318.87,79.35 319.25,79.06 C319.63,78.77 320.29,78.62 321,78.58 C321.71,78.54 322.58,78.79 323.5,78.8 C324.42,78.82 325.5,78.75 326.5,78.68 C327.5,78.6 328.5,78.49 329.5,78.36 C330.5,78.22 331.58,78.1 332.5,77.88 C333.42,77.65 334.21,77.29 335,77.01 C335.79,76.73 336.54,76.39 337.25,76.18 C337.96,75.97 338.79,75.72 339.25,75.73 C339.71,75.75 340.08,75.99 340,76.28 C339.92,76.56 339.33,77 338.75,77.46 C338.17,77.92 337.38,78.5 336.5,79.06 C335.62,79.62 334.58,80.31 333.5,80.82 C332.42,81.33 331.25,81.77 330,82.13 C328.75,82.49 327.33,82.77 326,82.96 C324.67,83.16 323.12,83.32 322,83.28 C320.88,83.25 319.88,83.05 319.3,82.77 C318.72,82.49 318.6,82.03 318.5,81.62 C318.4,81.21 318.57,80.77 318.7,80.34Z" fill="#999" stroke="#151515" stroke-width="0.6"/><ellipse cx="315.9" cy="84.3" rx="4.2" ry="2.2" fill="#111"/><ellipse cx="315.9" cy="84.3" rx="1.8" ry="0.8" fill="#666"/><ellipse cx="328.3" cy="82.3" rx="3.2" ry="1.6" fill="#2a2a2a" transform="rotate(-15 328.3 82.3)"/><ellipse cx="345.5" cy="69.5" rx="3.2" ry="1.5" fill="#2a2a2a" transform="rotate(-35 345.5 69.5)"/><path d="M353.4,85.2 C353.27,84.6 353.13,83.23 353.6,82.8 C354.07,82.37 355.38,82.9 356.2,82.6 C357.02,82.3 357.7,81.42 358.5,81 C359.3,80.58 360.32,80.07 361,80.1 C361.68,80.13 362.4,80.62 362.6,81.2 C362.8,81.78 362.8,83 362.2,83.6 C361.6,84.2 359.95,84.37 359,84.8 C358.05,85.23 357.27,85.93 356.5,86.2 C355.73,86.47 354.92,86.57 354.4,86.4 C353.88,86.23 353.53,85.8 353.4,85.2Z" fill="#b0b0b0" stroke="#111" stroke-width="1.05"/><circle cx="360.3" cy="82.2" r="0.9" fill="none" stroke="#555" stroke-width="0.5"/><ellipse cx="346.5" cy="84.4" rx="1.2" ry="1" fill="#111"/><text x="356.9" y="50" font-size="6.3" text-anchor="end" textLength="39.4" lengthAdjust="spacingAndGlyphs">Transitional B</text><text x="360.8" y="97.3" font-size="6.3" text-anchor="end" textLength="34" lengthAdjust="spacingAndGlyphs">Plasmablast</text><path d="M299.93,101.9v2.3 M296.2,98.74h-2.5 M311.55,101.9v2.3 M296.2,87.3h-2.5 M322.88,101.9v2.3 M296.2,75.65h-2.5 M341.42,101.9v2.3 M296.2,56.94h-2.5 M357.58,101.9v2.3 M296.2,40.66h-2.5" stroke="#111" stroke-width="0.95" fill="none"/><path d="M302.26,101.9v1.4 M296.2,96.45h-1.5 M305.74,101.9v1.4 M296.2,93.02h-1.5 M309.22,101.9v1.4 M296.2,89.58h-1.5 M313.81,101.9v1.4 M296.2,84.97h-1.5 M317.22,101.9v1.4 M296.2,81.47h-1.5 M320.62,101.9v1.4 M296.2,77.98h-1.5 M328.46,101.9v1.4 M296.2,70.02h-1.5 M331.73,101.9v1.4 M296.2,66.73h-1.5 M334.04,101.9v1.4 M296.2,64.39h-1.5 M335.84,101.9v1.4 M296.2,62.58h-1.5 M337.31,101.9v1.4 M296.2,61.09h-1.5 M338.55,101.9v1.4 M296.2,59.84h-1.5 M339.63,101.9v1.4 M296.2,58.76h-1.5 M340.57,101.9v1.4 M296.2,57.8h-1.5 M346.29,101.9v1.4 M296.2,52.04h-1.5 M349.13,101.9v1.4 M296.2,49.17h-1.5 M351.15,101.9v1.4 M296.2,47.14h-1.5 M352.72,101.9v1.4 M296.2,45.56h-1.5 M354,101.9v1.4 M296.2,44.27h-1.5 M355.08,101.9v1.4 M296.2,43.18h-1.5 M356.02,101.9v1.4 M296.2,42.24h-1.5 M356.84,101.9v1.4 M296.2,41.4h-1.5 M362.45,101.9v1.4 M296.2,35.75h-1.5" stroke="#111" stroke-width="0.7" fill="none"/><rect x="310.38" y="101.9" width="2.3" height="1.7" fill="#222"/><rect x="294.3" y="86.13" width="1.9" height="2.31" fill="#222"/><rect x="296.2" y="34.6" width="67.9" height="67.3" fill="none" stroke="#111" stroke-width="1.25"/><text x="299.93" y="112.9" font-size="6.5" text-anchor="middle" style="stroke-width:0.1px">-10<tspan font-size="4.8" dy="-3.4">3</tspan></text><text x="311.55" y="112.9" font-size="6.5" style="stroke-width:0.1px" text-anchor="middle">0</text><text x="322.88" y="112.9" font-size="6.5" text-anchor="middle" style="stroke-width:0.1px">10<tspan font-size="4.8" dy="-3.4">3</tspan></text><text x="341.42" y="112.9" font-size="6.5" text-anchor="middle" style="stroke-width:0.1px">10<tspan font-size="4.8" dy="-3.4">4</tspan></text><text x="357.58" y="112.9" font-size="6.5" text-anchor="middle" style="stroke-width:0.1px">10<tspan font-size="4.8" dy="-3.4">5</tspan></text><text x="287.9" y="102.64" font-size="6.5" style="stroke-width:0.1px" text-anchor="end">-10</text><text x="288.1" y="99.24" font-size="4.8" style="stroke-width:0.1px">3</text><text x="287.9" y="79.55" font-size="6.5" style="stroke-width:0.1px" text-anchor="end">10</text><text x="288.1" y="76.15" font-size="4.8" style="stroke-width:0.1px">3</text><text x="287.9" y="60.84" font-size="6.5" style="stroke-width:0.1px" text-anchor="end">10</text><text x="288.1" y="57.44" font-size="4.8" style="stroke-width:0.1px">4</text><text x="287.9" y="44.56" font-size="6.5" style="stroke-width:0.1px" text-anchor="end">10</text><text x="288.1" y="41.16" font-size="4.8" style="stroke-width:0.1px">5</text><text x="330.15" y="125.7" font-size="9.1" style="stroke-width:0.35px" text-anchor="middle" textLength="21.6" lengthAdjust="spacingAndGlyphs">hCD38</text><text x="275.5" y="68.5" font-size="9.1" style="stroke-width:0.35px" text-anchor="middle" textLength="23.2" lengthAdjust="spacingAndGlyphs" transform="rotate(-90 275.5 68.5)">hCD24</text><line x1="364.6" y1="84.8" x2="398" y2="84.8" stroke="#111" stroke-width="1.3"/><path d="M406.2,84.8 L395.2,80.4 L397.5,84.8 L395.2,89.2 Z" fill="#111"/><path d="M500.5,48.4 C502.65,47.98 504.05,48.35 505.4,49.3 C506.75,50.25 507.93,51.98 508.6,54.1 C509.27,56.22 509.47,59.35 509.4,62 C509.33,64.65 508.73,67.28 508.2,70 C507.67,72.72 507.07,75.53 506.2,78.3 C505.33,81.07 504.35,84.85 503,86.6 C501.65,88.35 499.77,88.98 498.1,88.8 C496.43,88.62 494.32,87.3 493,85.5 C491.68,83.7 490.87,80.58 490.2,78 C489.53,75.42 489.22,72.63 489,70 C488.78,67.37 488.73,64.53 488.9,62.2 C489.07,59.87 489.4,57.73 490,56 C490.6,54.27 490.75,53.07 492.5,51.8 C494.25,50.53 498.35,48.82 500.5,48.4Z" fill="#dcdcdc" stroke="#b8b8b8" stroke-width="0.45"/><path d="M500.35,49.56 C502.29,49.19 503.54,49.52 504.76,50.37 C505.98,51.22 507.04,52.78 507.64,54.69 C508.24,56.59 508.42,59.41 508.36,61.8 C508.3,64.19 507.76,66.56 507.28,69 C506.8,71.44 506.26,73.98 505.48,76.47 C504.7,78.96 503.82,82.36 502.6,83.94 C501.38,85.52 499.69,86.09 498.19,85.92 C496.69,85.75 494.79,84.57 493.6,82.95 C492.42,81.33 491.68,78.53 491.08,76.2 C490.48,73.88 490.19,71.37 490,69 C489.81,66.63 489.76,64.08 489.91,61.98 C490.06,59.88 490.36,57.96 490.9,56.4 C491.44,54.84 491.57,53.76 493.15,52.62 C494.72,51.48 498.42,49.94 500.35,49.56Z" fill="#e8e8e8" stroke="#aaa" stroke-width="0.45"/><path d="M500.2,50.72 C501.92,50.39 503.04,50.68 504.12,51.44 C505.2,52.2 506.15,53.59 506.68,55.28 C507.21,56.97 507.37,59.48 507.32,61.6 C507.27,63.72 506.79,65.83 506.36,68 C505.93,70.17 505.45,72.43 504.76,74.64 C504.07,76.85 503.28,79.88 502.2,81.28 C501.12,82.68 499.61,83.19 498.28,83.04 C496.95,82.89 495.25,81.84 494.2,80.4 C493.15,78.96 492.49,76.47 491.96,74.4 C491.43,72.33 491.17,70.11 491,68 C490.83,65.89 490.79,63.63 490.92,61.76 C491.05,59.89 491.32,58.19 491.8,56.8 C492.28,55.41 492.4,54.45 493.8,53.44 C495.2,52.43 498.48,51.05 500.2,50.72Z" fill="#cfcfcf" stroke="#aaa" stroke-width="0.45"/><path d="M500.05,51.88 C501.56,51.59 502.53,51.84 503.48,52.51 C504.42,53.17 505.25,54.39 505.72,55.87 C506.19,57.35 506.33,59.55 506.28,61.4 C506.23,63.25 505.81,65.1 505.44,67 C505.07,68.9 504.65,70.87 504.04,72.81 C503.43,74.75 502.75,77.39 501.8,78.62 C500.86,79.84 499.54,80.29 498.37,80.16 C497.2,80.03 495.72,79.11 494.8,77.85 C493.88,76.59 493.31,74.41 492.84,72.6 C492.37,70.79 492.15,68.84 492,67 C491.85,65.16 491.81,63.17 491.93,61.54 C492.05,59.91 492.28,58.41 492.7,57.2 C493.12,55.99 493.22,55.15 494.45,54.26 C495.68,53.37 498.55,52.17 500.05,51.88Z" fill="#e2e2e2" stroke="#a4a4a4" stroke-width="0.45"/><path d="M499.9,53.04 C501.19,52.79 502.03,53.01 502.84,53.58 C503.65,54.15 504.36,55.19 504.76,56.46 C505.16,57.73 505.28,59.61 505.24,61.2 C505.2,62.79 504.84,64.37 504.52,66 C504.2,67.63 503.84,69.32 503.32,70.98 C502.8,72.64 502.21,74.91 501.4,75.96 C500.59,77.01 499.46,77.39 498.46,77.28 C497.46,77.17 496.19,76.38 495.4,75.3 C494.61,74.22 494.12,72.35 493.72,70.8 C493.32,69.25 493.13,67.58 493,66 C492.87,64.42 492.84,62.72 492.94,61.32 C493.04,59.92 493.24,58.64 493.6,57.6 C493.96,56.56 494.05,55.84 495.1,55.08 C496.15,54.32 498.61,53.29 499.9,53.04Z" fill="#c0c0c0" stroke="#9c9c9c" stroke-width="0.45"/><path d="M499.75,54.2 C500.82,53.99 501.52,54.17 502.2,54.65 C502.88,55.12 503.47,55.99 503.8,57.05 C504.13,58.11 504.23,59.67 504.2,61 C504.17,62.33 503.87,63.64 503.6,65 C503.33,66.36 503.03,67.77 502.6,69.15 C502.17,70.53 501.68,72.42 501,73.3 C500.32,74.17 499.38,74.49 498.55,74.4 C497.72,74.31 496.66,73.65 496,72.75 C495.34,71.85 494.93,70.29 494.6,69 C494.27,67.71 494.11,66.32 494,65 C493.89,63.68 493.87,62.27 493.95,61.1 C494.03,59.93 494.2,58.87 494.5,58 C494.8,57.13 494.88,56.53 495.75,55.9 C496.62,55.27 498.68,54.41 499.75,54.2Z" fill="#a8a8a8" stroke="#999" stroke-width="0.45"/><path d="M499.6,55.36 C500.46,55.19 501.02,55.34 501.56,55.72 C502.1,56.1 502.57,56.79 502.84,57.64 C503.11,58.49 503.19,59.74 503.16,60.8 C503.13,61.86 502.89,62.91 502.68,64 C502.47,65.09 502.23,66.21 501.88,67.32 C501.53,68.43 501.14,69.94 500.6,70.64 C500.06,71.34 499.31,71.59 498.64,71.52 C497.97,71.45 497.13,70.92 496.6,70.2 C496.07,69.48 495.75,68.23 495.48,67.2 C495.21,66.17 495.09,65.05 495,64 C494.91,62.95 494.89,61.81 494.96,60.88 C495.03,59.95 495.16,59.09 495.4,58.4 C495.64,57.71 495.7,57.23 496.4,56.72 C497.1,56.21 498.74,55.53 499.6,55.36Z" fill="#9a9a9a" stroke="#8c8c8c" stroke-width="0.45"/><path d="M499.42,56.75 C500.02,56.64 500.41,56.74 500.79,57 C501.17,57.27 501.5,57.76 501.69,58.35 C501.87,58.94 501.93,59.82 501.91,60.56 C501.89,61.3 501.73,62.04 501.58,62.8 C501.43,63.56 501.26,64.35 501.02,65.12 C500.77,65.9 500.5,66.96 500.12,67.45 C499.74,67.94 499.21,68.12 498.75,68.06 C498.28,68.01 497.69,67.64 497.32,67.14 C496.95,66.64 496.72,65.76 496.54,65.04 C496.35,64.32 496.26,63.54 496.2,62.8 C496.14,62.06 496.13,61.27 496.17,60.62 C496.22,59.96 496.31,59.37 496.48,58.88 C496.65,58.39 496.69,58.06 497.18,57.7 C497.67,57.35 498.82,56.87 499.42,56.75Z" fill="#8e8e8e" stroke="#888" stroke-width="0.45"/><path d="M499.24,58.14 C499.58,58.08 499.81,58.14 500.02,58.29 C500.24,58.44 500.43,58.72 500.54,59.06 C500.64,59.39 500.67,59.9 500.66,60.32 C500.65,60.74 500.56,61.17 500.47,61.6 C500.39,62.03 500.29,62.49 500.15,62.93 C500.01,63.37 499.86,63.98 499.64,64.26 C499.42,64.54 499.12,64.64 498.86,64.61 C498.59,64.58 498.25,64.37 498.04,64.08 C497.83,63.79 497.7,63.29 497.59,62.88 C497.49,62.47 497.43,62.02 497.4,61.6 C497.37,61.18 497.36,60.73 497.38,60.35 C497.41,59.98 497.46,59.64 497.56,59.36 C497.66,59.08 497.68,58.89 497.96,58.69 C498.24,58.49 498.9,58.21 499.24,58.14Z" fill="#858585" stroke="#808080" stroke-width="0.45"/><path d="M500.3,57 L501.3,61.5 L500.6,63 L499.5,61.5 Z" fill="#f2f2f2"/><path d="M445.33,104.5v2.3 M441.4,99.76h-2.5 M457.56,104.5v2.3 M441.4,88.1h-2.5 M469.5,104.5v2.3 M441.4,76.93h-2.5 M489.02,104.5v2.3 M441.4,57.27h-2.5 M506.04,104.5v2.3 M441.4,40.16h-2.5" stroke="#111" stroke-width="0.95" fill="none"/><path d="M447.78,104.5v1.4 M441.4,97.43h-1.5 M451.45,104.5v1.4 M441.4,93.93h-1.5 M455.11,104.5v1.4 M441.4,90.43h-1.5 M459.95,104.5v1.4 M441.4,85.86h-1.5 M463.53,104.5v1.4 M441.4,82.51h-1.5 M467.11,104.5v1.4 M441.4,79.16h-1.5 M475.38,104.5v1.4 M441.4,71.01h-1.5 M478.81,104.5v1.4 M441.4,67.55h-1.5 M481.25,104.5v1.4 M441.4,65.09h-1.5 M483.14,104.5v1.4 M441.4,63.19h-1.5 M484.69,104.5v1.4 M441.4,61.63h-1.5 M486,104.5v1.4 M441.4,60.32h-1.5 M487.13,104.5v1.4 M441.4,59.18h-1.5 M488.13,104.5v1.4 M441.4,58.17h-1.5 M494.14,104.5v1.4 M441.4,52.12h-1.5 M497.14,104.5v1.4 M441.4,49.11h-1.5 M499.26,104.5v1.4 M441.4,46.97h-1.5 M500.91,104.5v1.4 M441.4,45.31h-1.5 M502.26,104.5v1.4 M441.4,43.96h-1.5 M503.4,104.5v1.4 M441.4,42.81h-1.5 M504.39,104.5v1.4 M441.4,41.82h-1.5 M505.26,104.5v1.4 M441.4,40.95h-1.5 M511.16,104.5v1.4 M441.4,35.01h-1.5" stroke="#111" stroke-width="0.7" fill="none"/><rect x="456.34" y="104.5" width="2.42" height="1.7" fill="#222"/><rect x="439.5" y="86.98" width="1.9" height="2.28" fill="#222"/><rect x="441.4" y="33.8" width="71.5" height="70.7" fill="none" stroke="#111" stroke-width="1.25"/><text x="445.33" y="115.8" font-size="6.5" text-anchor="middle" style="stroke-width:0.1px">-10<tspan font-size="4.8" dy="-3.4">3</tspan></text><text x="457.56" y="115.8" font-size="6.5" style="stroke-width:0.1px" text-anchor="middle">0</text><text x="469.5" y="115.8" font-size="6.5" text-anchor="middle" style="stroke-width:0.1px">10<tspan font-size="4.8" dy="-3.4">3</tspan></text><text x="489.02" y="115.8" font-size="6.5" text-anchor="middle" style="stroke-width:0.1px">10<tspan font-size="4.8" dy="-3.4">4</tspan></text><text x="506.04" y="115.8" font-size="6.5" text-anchor="middle" style="stroke-width:0.1px">10<tspan font-size="4.8" dy="-3.4">5</tspan></text><text x="433.1" y="103.66" font-size="6.5" style="stroke-width:0.1px" text-anchor="end">-10</text><text x="433.3" y="100.26" font-size="4.8" style="stroke-width:0.1px">3</text><text x="433.1" y="90.8" font-size="6.5" style="stroke-width:0.1px" text-anchor="end">0</text><text x="433.1" y="80.83" font-size="6.5" style="stroke-width:0.1px" text-anchor="end">10</text><text x="433.3" y="77.43" font-size="4.8" style="stroke-width:0.1px">3</text><text x="433.1" y="61.17" font-size="6.5" style="stroke-width:0.1px" text-anchor="end">10</text><text x="433.3" y="57.77" font-size="4.8" style="stroke-width:0.1px">4</text><text x="433.1" y="44.06" font-size="6.5" style="stroke-width:0.1px" text-anchor="end">10</text><text x="433.3" y="40.66" font-size="4.8" style="stroke-width:0.1px">5</text><text x="477.15" y="128.3" font-size="9.1" style="stroke-width:0.35px" text-anchor="middle" textLength="22" lengthAdjust="spacingAndGlyphs">hCD38</text><text x="420.5" y="74.8" font-size="9.1" style="stroke-width:0.35px" text-anchor="middle" textLength="22.2" lengthAdjust="spacingAndGlyphs" transform="rotate(-90 420.5 74.8)">hCD27</text><line x1="86.9" y1="69.2" x2="138" y2="69.2" stroke="#111" stroke-width="1.3"/><path d="M145.4,69.2 L134.4,64.8 L136.8,69.2 L134.4,73.6 Z" fill="#111"/><line x1="100.2" y1="97.3" x2="146" y2="138" stroke="#111" stroke-width="1.3"/><path d="M151.5,142.9 L140.4,138.8 L144.8,137.4 L146.2,132.6 Z" fill="#111"/><rect x="334.5" y="183.4" width="63.2" height="28.8" fill="#fff" stroke="#111" stroke-width="1.3"/><rect x="335.2" y="193.6" width="10.2" height="8.8" fill="#4fb0de"/><rect x="335.2" y="203" width="10.2" height="8.6" fill="#cf3b2b"/><line x1="345.6" y1="183.4" x2="345.6" y2="212.2" stroke="#111" stroke-width="0.9"/><line x1="334.5" y1="193.2" x2="397.7" y2="193.2" stroke="#111" stroke-width="0.9"/><line x1="334.5" y1="202.8" x2="397.7" y2="202.8" stroke="#111" stroke-width="0.9"/><text x="347.6" y="190.7" font-size="7.6" font-weight="bold" textLength="47.6" lengthAdjust="spacingAndGlyphs">Subset Name</text><text x="347.6" y="200.5" font-size="7.6" textLength="45.4" lengthAdjust="spacingAndGlyphs">Transitional B</text><text x="347.6" y="210" font-size="7.6" textLength="41.6" lengthAdjust="spacingAndGlyphs">Plasmablast</text><ellipse cx="468" cy="190.5" rx="17" ry="9" fill="#faeeee" transform="rotate(-28 468 190.5)"/><ellipse cx="466" cy="192" rx="11" ry="6" fill="#f6e2e2" transform="rotate(-28 466 192)"/><rect x="465.6" y="194.93" width="0.8" height="0.8" fill="#e8b4b4"/><rect x="475.94" y="189.33" width="0.8" height="0.8" fill="#d8d4d8"/><rect x="450.05" y="194.48" width="0.8" height="0.8" fill="#f0d6d6"/><rect x="474.77" y="188.29" width="0.8" height="0.8" fill="#eec8c8"/><rect x="469.58" y="197" width="0.8" height="0.8" fill="#e8b4b4"/><rect x="467.38" y="188.4" width="0.8" height="0.8" fill="#f0d6d6"/><rect x="457.8" y="190.84" width="0.8" height="0.8" fill="#e8b4b4"/><rect x="458.89" y="193.08" width="0.8" height="0.8" fill="#f0d6d6"/><rect x="481.84" y="186.17" width="0.8" height="0.8" fill="#cfc8d0"/><rect x="459.54" y="198.87" width="0.8" height="0.8" fill="#cfc8d0"/><rect x="454.83" y="194.83" width="0.8" height="0.8" fill="#eec8c8"/><rect x="455.77" y="193.5" width="0.8" height="0.8" fill="#d8d4d8"/><rect x="478" y="190.25" width="0.8" height="0.8" fill="#e8b4b4"/><rect x="458.47" y="191.44" width="0.8" height="0.8" fill="#e3a6a6"/><rect x="465.72" y="185.63" width="0.8" height="0.8" fill="#c8c4cc"/><rect x="464" y="196.2" width="0.8" height="0.8" fill="#d99494"/><rect x="463.31" y="189.22" width="0.8" height="0.8" fill="#cfc8d0"/><rect x="450.75" y="198.48" width="0.8" height="0.8" fill="#c8c4cc"/><rect x="466.98" y="206.79" width="0.8" height="0.8" fill="#eec8c8"/><rect x="461.92" y="193.81" width="0.8" height="0.8" fill="#d8d4d8"/><rect x="473.41" y="193.04" width="0.8" height="0.8" fill="#e8b4b4"/><rect x="469.24" y="189.42" width="0.8" height="0.8" fill="#d8d4d8"/><rect x="464.33" y="197.2" width="0.8" height="0.8" fill="#c8c4cc"/><rect x="458.18" y="193.12" width="0.8" height="0.8" fill="#eec8c8"/><rect x="473.72" y="185.25" width="0.8" height="0.8" fill="#eec8c8"/><rect x="478.48" y="188.1" width="0.8" height="0.8" fill="#c8c4cc"/><rect x="466.83" y="196.83" width="0.8" height="0.8" fill="#d8d4d8"/><rect x="475.08" y="187.6" width="0.8" height="0.8" fill="#d99494"/><rect x="458.29" y="191.81" width="0.8" height="0.8" fill="#f0d6d6"/><rect x="465.91" y="188.84" width="0.8" height="0.8" fill="#f0d6d6"/><rect x="455.77" y="205.14" width="0.8" height="0.8" fill="#c8c4cc"/><rect x="474.72" y="189.92" width="0.8" height="0.8" fill="#cfc8d0"/><rect x="474.34" y="180.03" width="0.8" height="0.8" fill="#cfc8d0"/><rect x="454.9" y="181.84" width="0.8" height="0.8" fill="#e3a6a6"/><rect x="470.34" y="188.49" width="0.8" height="0.8" fill="#d99494"/><rect x="475.28" y="193.41" width="0.8" height="0.8" fill="#e8b4b4"/><rect x="456.79" y="197.66" width="0.8" height="0.8" fill="#cfc8d0"/><rect x="466.76" y="194.5" width="0.8" height="0.8" fill="#d8d4d8"/><rect x="460.32" y="191.77" width="0.8" height="0.8" fill="#d99494"/><rect x="460.96" y="188.19" width="0.8" height="0.8" fill="#e8b4b4"/><rect x="452.97" y="202.19" width="0.8" height="0.8" fill="#e3a6a6"/><rect x="461.68" y="197.62" width="0.8" height="0.8" fill="#c8c4cc"/><rect x="464.18" y="191.27" width="0.8" height="0.8" fill="#eec8c8"/><rect x="474.34" y="186.52" width="0.8" height="0.8" fill="#eec8c8"/><rect x="465.73" y="193.52" width="0.8" height="0.8" fill="#e8b4b4"/><rect x="456.99" y="193.93" width="0.8" height="0.8" fill="#d8d4d8"/><rect x="463.84" y="191.56" width="0.8" height="0.8" fill="#f0d6d6"/><rect x="462.55" y="191.58" width="0.8" height="0.8" fill="#cfc8d0"/><rect x="475.54" y="184.29" width="0.8" height="0.8" fill="#c8c4cc"/><rect x="479.66" y="191.89" width="0.8" height="0.8" fill="#c8c4cc"/><rect x="460.28" y="195.59" width="0.8" height="0.8" fill="#d99494"/><rect x="473.1" y="190.94" width="0.8" height="0.8" fill="#cfc8d0"/><rect x="455.5" y="198.83" width="0.8" height="0.8" fill="#e8b4b4"/><rect x="476.37" y="199.52" width="0.8" height="0.8" fill="#d8d4d8"/><rect x="474.17" y="192.9" width="0.8" height="0.8" fill="#e8b4b4"/><rect x="465.14" y="187.45" width="0.8" height="0.8" fill="#eec8c8"/><rect x="463.1" y="189.21" width="0.8" height="0.8" fill="#d8d4d8"/><rect x="471.37" y="185.85" width="0.8" height="0.8" fill="#f0d6d6"/><rect x="453.03" y="197.02" width="0.8" height="0.8" fill="#d8d4d8"/><rect x="457.65" y="190.5" width="0.8" height="0.8" fill="#f0d6d6"/><rect x="467.81" y="180.85" width="0.8" height="0.8" fill="#f0d6d6"/><rect x="471.42" y="195.08" width="0.8" height="0.8" fill="#e8b4b4"/><rect x="479.49" y="183.56" width="0.8" height="0.8" fill="#c8c4cc"/><rect x="468.9" y="198.92" width="0.8" height="0.8" fill="#d8d4d8"/><rect x="451.35" y="204.36" width="0.8" height="0.8" fill="#d8d4d8"/><rect x="472.83" y="186.44" width="0.8" height="0.8" fill="#f0d6d6"/><rect x="474.62" y="190.81" width="0.8" height="0.8" fill="#d8d4d8"/><rect x="472.15" y="196.01" width="0.8" height="0.8" fill="#e8b4b4"/><rect x="456.05" y="198.42" width="0.8" height="0.8" fill="#eec8c8"/><rect x="467.55" y="188.42" width="0.8" height="0.8" fill="#e3a6a6"/><rect x="465.76" y="182.59" width="0.8" height="0.8" fill="#c8c4cc"/><rect x="471.26" y="184.91" width="0.8" height="0.8" fill="#d8d4d8"/><rect x="484.51" y="188.58" width="0.8" height="0.8" fill="#e3a6a6"/><rect x="455.22" y="199.98" width="0.8" height="0.8" fill="#eec8c8"/><rect x="464.57" y="189.13" width="0.8" height="0.8" fill="#d99494"/><rect x="476.84" y="187.03" width="0.8" height="0.8" fill="#c8c4cc"/><rect x="466.91" y="188.25" width="0.8" height="0.8" fill="#c8c4cc"/><rect x="461.12" y="190.08" width="0.8" height="0.8" fill="#d99494"/><rect x="480.3" y="185.15" width="0.8" height="0.8" fill="#eec8c8"/><rect x="448.5" y="199.37" width="0.8" height="0.8" fill="#e3a6a6"/><rect x="471.31" y="188.49" width="0.8" height="0.8" fill="#f0d6d6"/><rect x="471.85" y="189.2" width="0.8" height="0.8" fill="#f0d6d6"/><rect x="465.3" y="187.11" width="0.8" height="0.8" fill="#e3a6a6"/><rect x="467.23" y="189.34" width="0.8" height="0.8" fill="#d8d4d8"/><rect x="473.58" y="182.48" width="0.8" height="0.8" fill="#e3a6a6"/><rect x="470.04" y="179.13" width="0.8" height="0.8" fill="#d99494"/><rect x="457.07" y="195.4" width="0.8" height="0.8" fill="#e8b4b4"/><rect x="473.07" y="180.72" width="0.8" height="0.8" fill="#e8b4b4"/><rect x="466.07" y="188.52" width="0.8" height="0.8" fill="#d99494"/><rect x="455.15" y="199.38" width="0.8" height="0.8" fill="#e8b4b4"/><rect x="464.48" y="198.77" width="0.8" height="0.8" fill="#c8c4cc"/><rect x="466.33" y="188.95" width="0.8" height="0.8" fill="#e8b4b4"/><rect x="468.17" y="195.17" width="0.8" height="0.8" fill="#eec8c8"/><rect x="456.75" y="196.6" width="0.8" height="0.8" fill="#eec8c8"/><rect x="457.78" y="199.13" width="0.8" height="0.8" fill="#f0d6d6"/><rect x="461.55" y="188.4" width="0.8" height="0.8" fill="#c8c4cc"/><rect x="460.78" y="194.5" width="0.8" height="0.8" fill="#cfc8d0"/><rect x="478.55" y="179.12" width="0.8" height="0.8" fill="#f0d6d6"/><rect x="467.77" y="188.17" width="0.8" height="0.8" fill="#eec8c8"/><rect x="462.49" y="196.86" width="0.8" height="0.8" fill="#f0d6d6"/><rect x="462.43" y="195.5" width="0.8" height="0.8" fill="#cfc8d0"/><rect x="465.72" y="180.02" width="0.8" height="0.8" fill="#d99494"/><rect x="475.44" y="183.45" width="0.8" height="0.8" fill="#d8d4d8"/><rect x="479.41" y="193.53" width="0.8" height="0.8" fill="#c8c4cc"/><rect x="474.86" y="200.68" width="0.8" height="0.8" fill="#e3a6a6"/><rect x="469.06" y="187.81" width="0.8" height="0.8" fill="#f0d6d6"/><rect x="472.51" y="193.29" width="0.8" height="0.8" fill="#e3a6a6"/><rect x="464.99" y="195.55" width="0.8" height="0.8" fill="#d8d4d8"/><rect x="473.54" y="190.55" width="0.8" height="0.8" fill="#d8d4d8"/><rect x="458.16" y="194.12" width="0.8" height="0.8" fill="#e8b4b4"/><rect x="461.34" y="198.98" width="0.8" height="0.8" fill="#cfc8d0"/><rect x="463.72" y="192.9" width="0.8" height="0.8" fill="#f0d6d6"/><rect x="469.81" y="189.17" width="0.8" height="0.8" fill="#cfc8d0"/><rect x="468.57" y="202.66" width="0.8" height="0.8" fill="#d99494"/><rect x="467.04" y="194.19" width="0.8" height="0.8" fill="#e3a6a6"/><rect x="470.66" y="182.21" width="0.8" height="0.8" fill="#cfc8d0"/><rect x="460.16" y="199" width="0.8" height="0.8" fill="#c8c4cc"/><rect x="464.68" y="190.16" width="0.8" height="0.8" fill="#e8b4b4"/><rect x="466.75" y="187.89" width="0.8" height="0.8" fill="#eec8c8"/><rect x="466.7" y="192.43" width="0.8" height="0.8" fill="#eec8c8"/><rect x="466.71" y="189.12" width="0.8" height="0.8" fill="#f0d6d6"/><rect x="481.78" y="187.58" width="0.8" height="0.8" fill="#c8c4cc"/><rect x="491.02" y="179.1" width="0.8" height="0.8" fill="#e3a6a6"/><rect x="471.1" y="186.91" width="0.8" height="0.8" fill="#d99494"/><rect x="478.7" y="187.08" width="0.8" height="0.8" fill="#eec8c8"/><rect x="471.94" y="187.6" width="0.8" height="0.8" fill="#d99494"/><rect x="470.09" y="194.21" width="0.8" height="0.8" fill="#cfc8d0"/><rect x="461.24" y="193.69" width="0.8" height="0.8" fill="#c8c4cc"/><rect x="461.8" y="194.13" width="0.8" height="0.8" fill="#d8d4d8"/><rect x="468.42" y="173.01" width="0.8" height="0.8" fill="#e8b4b4"/><rect x="478.95" y="185.43" width="0.8" height="0.8" fill="#f0d6d6"/><rect x="460.76" y="194.33" width="0.8" height="0.8" fill="#c8c4cc"/><rect x="479.68" y="190.67" width="0.8" height="0.8" fill="#e3a6a6"/><rect x="459.19" y="189.61" width="0.8" height="0.8" fill="#e3a6a6"/><rect x="472.5" y="187.23" width="0.8" height="0.8" fill="#f0d6d6"/><rect x="473.13" y="187.21" width="0.8" height="0.8" fill="#d99494"/><rect x="461.82" y="197.1" width="0.8" height="0.8" fill="#e8b4b4"/><rect x="466.87" y="190.46" width="0.8" height="0.8" fill="#cfc8d0"/><rect x="464.49" y="193.44" width="0.8" height="0.8" fill="#e3a6a6"/><rect x="472.01" y="182.22" width="0.8" height="0.8" fill="#cfc8d0"/><rect x="455.34" y="192.64" width="0.8" height="0.8" fill="#e8b4b4"/><rect x="462.55" y="194.56" width="0.8" height="0.8" fill="#c8c4cc"/><rect x="473.68" y="187.6" width="0.8" height="0.8" fill="#d8d4d8"/><rect x="475.37" y="185.3" width="0.8" height="0.8" fill="#f0d6d6"/><rect x="482.54" y="185.06" width="0.8" height="0.8" fill="#f0d6d6"/><rect x="466.36" y="191.79" width="0.8" height="0.8" fill="#e3a6a6"/><rect x="472.56" y="190.44" width="0.8" height="0.8" fill="#f0d6d6"/><rect x="470.11" y="199.38" width="0.8" height="0.8" fill="#eec8c8"/><rect x="467.07" y="193.65" width="0.8" height="0.8" fill="#e3a6a6"/><rect x="459.04" y="192.71" width="0.8" height="0.8" fill="#cfc8d0"/><rect x="466.05" y="195.68" width="0.8" height="0.8" fill="#d99494"/><rect x="457.32" y="189.06" width="0.8" height="0.8" fill="#e3a6a6"/><rect x="464.39" y="183.58" width="0.8" height="0.8" fill="#c8c4cc"/><rect x="476.2" y="193.48" width="0.8" height="0.8" fill="#d99494"/><rect x="481.24" y="186.2" width="0.8" height="0.8" fill="#e3a6a6"/><rect x="461.47" y="183.91" width="0.8" height="0.8" fill="#d99494"/><rect x="475.29" y="181.45" width="0.8" height="0.8" fill="#e8b4b4"/><rect x="468.74" y="183.53" width="0.8" height="0.8" fill="#f0d6d6"/><rect x="468.69" y="191.13" width="0.8" height="0.8" fill="#d8d4d8"/><rect x="473.07" y="186.42" width="0.8" height="0.8" fill="#c8c4cc"/><rect x="455.65" y="194.68" width="0.8" height="0.8" fill="#f0d6d6"/><rect x="465.9" y="191.87" width="0.8" height="0.8" fill="#eec8c8"/><rect x="464.04" y="186.12" width="0.8" height="0.8" fill="#eec8c8"/><rect x="464.38" y="190.91" width="0.8" height="0.8" fill="#c8c4cc"/><rect x="467.25" y="193.33" width="0.8" height="0.8" fill="#cfc8d0"/><rect x="471.05" y="198.52" width="0.8" height="0.8" fill="#f0d6d6"/><rect x="459.75" y="179.71" width="0.8" height="0.8" fill="#c8c4cc"/><rect x="467.53" y="189.04" width="0.8" height="0.8" fill="#cfc8d0"/><rect x="464.85" y="184.54" width="0.8" height="0.8" fill="#f0d6d6"/><rect x="470.77" y="190.62" width="0.8" height="0.8" fill="#cfc8d0"/><rect x="457.31" y="189.48" width="0.8" height="0.8" fill="#d99494"/><rect x="469.2" y="190.15" width="0.8" height="0.8" fill="#cfc8d0"/><rect x="469.73" y="189.24" width="0.8" height="0.8" fill="#f0d6d6"/><rect x="462.22" y="189.66" width="0.8" height="0.8" fill="#cfc8d0"/><rect x="458.79" y="197.23" width="0.8" height="0.8" fill="#eec8c8"/><rect x="475.85" y="185.96" width="0.8" height="0.8" fill="#cfc8d0"/><rect x="483.29" y="180.26" width="0.8" height="0.8" fill="#e8b4b4"/><rect x="466.54" y="193.69" width="0.8" height="0.8" fill="#c8c4cc"/><rect x="473.84" y="187.18" width="0.8" height="0.8" fill="#f0d6d6"/><rect x="469.8" y="190.77" width="0.8" height="0.8" fill="#cfc8d0"/><rect x="470.01" y="188.64" width="0.8" height="0.8" fill="#cfc8d0"/><rect x="473.33" y="181.86" width="0.8" height="0.8" fill="#f0d6d6"/><rect x="451.23" y="200.21" width="0.8" height="0.8" fill="#e3a6a6"/><rect x="467.15" y="191.21" width="0.8" height="0.8" fill="#c8c4cc"/><rect x="461.46" y="189.02" width="0.8" height="0.8" fill="#d99494"/><rect x="461.18" y="197.27" width="0.8" height="0.8" fill="#eec8c8"/><rect x="466.64" y="191.14" width="0.8" height="0.8" fill="#d8d4d8"/><rect x="467.66" y="188.4" width="0.8" height="0.8" fill="#f0d6d6"/><rect x="458.59" y="183.94" width="0.8" height="0.8" fill="#cfc8d0"/><rect x="467.18" y="193.22" width="0.8" height="0.8" fill="#e3a6a6"/><rect x="476.48" y="185.85" width="0.8" height="0.8" fill="#d8d4d8"/><rect x="476.22" y="181.72" width="0.8" height="0.8" fill="#e8b4b4"/><rect x="466.67" y="193.23" width="0.8" height="0.8" fill="#cfc8d0"/><rect x="462.83" y="191.12" width="0.8" height="0.8" fill="#cfc8d0"/><rect x="461.16" y="196.43" width="0.8" height="0.8" fill="#d8d4d8"/><rect x="466.17" y="185.79" width="0.8" height="0.8" fill="#e8b4b4"/><rect x="467.91" y="183.24" width="0.8" height="0.8" fill="#f0d6d6"/><rect x="465.42" y="190.32" width="0.8" height="0.8" fill="#e3a6a6"/><rect x="455.57" y="200.52" width="0.8" height="0.8" fill="#cfc8d0"/><rect x="450.44" y="201.64" width="0.8" height="0.8" fill="#d99494"/><rect x="472.03" y="193.61" width="0.8" height="0.8" fill="#cfc8d0"/><rect x="466" y="200.74" width="0.8" height="0.8" fill="#cfc8d0"/><rect x="462.72" y="195.97" width="0.8" height="0.8" fill="#c8c4cc"/><rect x="458.76" y="193.81" width="0.8" height="0.8" fill="#d99494"/><rect x="464.04" y="191.11" width="0.8" height="0.8" fill="#c8c4cc"/><rect x="457.99" y="194.31" width="0.8" height="0.8" fill="#d8d4d8"/><rect x="474.65" y="186.8" width="0.8" height="0.8" fill="#d99494"/><rect x="460.7" y="193.48" width="0.8" height="0.8" fill="#d99494"/><rect x="465.44" y="194.19" width="0.8" height="0.8" fill="#f0d6d6"/><rect x="459.94" y="202.84" width="0.8" height="0.8" fill="#f0d6d6"/><rect x="473.81" y="181.21" width="0.8" height="0.8" fill="#e3a6a6"/><rect x="459.52" y="201.76" width="0.8" height="0.8" fill="#f0d6d6"/><rect x="462.89" y="197.15" width="0.8" height="0.8" fill="#e8b4b4"/><rect x="456.73" y="197.06" width="0.8" height="0.8" fill="#d8d4d8"/><rect x="474.42" y="191.88" width="0.8" height="0.8" fill="#f0d6d6"/><rect x="482.2" y="189.41" width="0.8" height="0.8" fill="#e3a6a6"/><rect x="461.19" y="198.13" width="0.8" height="0.8" fill="#cfc8d0"/><rect x="472.05" y="178.94" width="0.8" height="0.8" fill="#e8b4b4"/><rect x="473.51" y="191.89" width="0.8" height="0.8" fill="#c8c4cc"/><rect x="474.57" y="185.67" width="0.8" height="0.8" fill="#eec8c8"/><rect x="456.06" y="205.59" width="0.8" height="0.8" fill="#c8c4cc"/><rect x="471.82" y="187.77" width="0.8" height="0.8" fill="#eec8c8"/><rect x="468.34" y="193.71" width="0.8" height="0.8" fill="#eec8c8"/><rect x="476.54" y="182.59" width="0.8" height="0.8" fill="#c8c4cc"/><rect x="479.44" y="189.29" width="0.8" height="0.8" fill="#e8b4b4"/><rect x="466.17" y="187.61" width="0.8" height="0.8" fill="#e8b4b4"/><rect x="461.26" y="190.58" width="0.8" height="0.8" fill="#d99494"/><rect x="458.31" y="191.08" width="0.8" height="0.8" fill="#e3a6a6"/><rect x="464.41" y="190.02" width="0.8" height="0.8" fill="#eec8c8"/><rect x="465.46" y="205.11" width="0.8" height="0.8" fill="#f0d6d6"/><rect x="463.35" y="195.9" width="0.8" height="0.8" fill="#e8b4b4"/><rect x="472.95" y="188.21" width="0.8" height="0.8" fill="#c8c4cc"/><rect x="467.05" y="196.1" width="0.8" height="0.8" fill="#f0d6d6"/><rect x="461.31" y="195.06" width="0.8" height="0.8" fill="#f0d6d6"/><rect x="474.47" y="188.11" width="0.8" height="0.8" fill="#cfc8d0"/><rect x="471.58" y="189.93" width="0.8" height="0.8" fill="#e3a6a6"/><rect x="471.91" y="190.48" width="0.8" height="0.8" fill="#e3a6a6"/><rect x="470.65" y="187.32" width="0.8" height="0.8" fill="#e8b4b4"/><rect x="459.51" y="186.83" width="0.8" height="0.8" fill="#d8d4d8"/><rect x="463.24" y="189.86" width="0.8" height="0.8" fill="#cfc8d0"/><rect x="463.53" y="186.4" width="0.8" height="0.8" fill="#f0d6d6"/><rect x="461.52" y="194.39" width="0.8" height="0.8" fill="#f0d6d6"/><rect x="468.54" y="194.37" width="0.8" height="0.8" fill="#cfc8d0"/><rect x="476.39" y="191.02" width="0.8" height="0.8" fill="#d99494"/><rect x="471.98" y="184.44" width="0.8" height="0.8" fill="#e8b4b4"/><rect x="470.15" y="188.44" width="0.8" height="0.8" fill="#e3a6a6"/><rect x="468.19" y="190.97" width="0.8" height="0.8" fill="#d99494"/><rect x="457.93" y="200.86" width="0.8" height="0.8" fill="#d99494"/><rect x="456.59" y="204.64" width="0.8" height="0.8" fill="#d8d4d8"/><rect x="456.8" y="177.23" width="0.8" height="0.8" fill="#d99494"/><rect x="465.33" y="195.37" width="0.8" height="0.8" fill="#c8c4cc"/><rect x="477.95" y="186.77" width="0.8" height="0.8" fill="#e3a6a6"/><rect x="473.13" y="173.74" width="0.8" height="0.8" fill="#c8c4cc"/><rect x="466.91" y="191.65" width="0.8" height="0.8" fill="#cfc8d0"/><rect x="474.36" y="190" width="0.8" height="0.8" fill="#eec8c8"/><rect x="453.51" y="195.16" width="0.8" height="0.8" fill="#e3a6a6"/><rect x="460.76" y="203.04" width="0.8" height="0.8" fill="#e3a6a6"/><rect x="478.12" y="189.67" width="0.8" height="0.8" fill="#f0d6d6"/><rect x="457.99" y="205.48" width="0.8" height="0.8" fill="#f0d6d6"/><rect x="463.98" y="201.29" width="0.8" height="0.8" fill="#c8c4cc"/><rect x="474.46" y="188.15" width="0.8" height="0.8" fill="#e3a6a6"/><rect x="468.57" y="190.73" width="0.8" height="0.8" fill="#eec8c8"/><rect x="466.71" y="189.45" width="0.8" height="0.8" fill="#f0d6d6"/><rect x="461.95" y="181.81" width="0.8" height="0.8" fill="#d8d4d8"/><rect x="463.46" y="197.12" width="0.8" height="0.8" fill="#e8b4b4"/><rect x="468.76" y="199.29" width="0.8" height="0.8" fill="#d8d4d8"/><rect x="471.33" y="186.59" width="0.8" height="0.8" fill="#eec8c8"/><rect x="472.13" y="188.98" width="0.8" height="0.8" fill="#c8c4cc"/><rect x="462.51" y="187.48" width="0.8" height="0.8" fill="#e3a6a6"/><rect x="466.32" y="179.34" width="0.8" height="0.8" fill="#c8c4cc"/><rect x="474.14" y="192.18" width="0.8" height="0.8" fill="#e8b4b4"/><rect x="467.39" y="182.14" width="0.8" height="0.8" fill="#d99494"/><rect x="460.16" y="191.87" width="0.8" height="0.8" fill="#d8d4d8"/><rect x="454.62" y="200.59" width="0.8" height="0.8" fill="#eec8c8"/><rect x="458.89" y="195.33" width="0.8" height="0.8" fill="#d99494"/><rect x="467.28" y="193.16" width="0.8" height="0.8" fill="#e8b4b4"/><rect x="457.44" y="197.4" width="0.8" height="0.8" fill="#d99494"/><rect x="481.42" y="181.68" width="0.8" height="0.8" fill="#eec8c8"/><rect x="467.04" y="193.58" width="0.8" height="0.8" fill="#eec8c8"/><rect x="470.84" y="188.45" width="0.8" height="0.8" fill="#d99494"/><rect x="458.84" y="199.76" width="0.8" height="0.8" fill="#f0d6d6"/><rect x="462.44" y="182.69" width="0.8" height="0.8" fill="#eec8c8"/><rect x="466.02" y="187.08" width="0.8" height="0.8" fill="#cfc8d0"/><rect x="459.1" y="193.39" width="0.8" height="0.8" fill="#cfc8d0"/><rect x="469.71" y="193.8" width="0.8" height="0.8" fill="#f0d6d6"/><rect x="468.67" y="194.91" width="0.8" height="0.8" fill="#f0d6d6"/><rect x="464.81" y="197.54" width="0.8" height="0.8" fill="#f0d6d6"/><rect x="461" y="194.39" width="0.8" height="0.8" fill="#eec8c8"/><rect x="448.33" y="187.27" width="0.8" height="0.8" fill="#eec8c8"/><rect x="482.14" y="183.07" width="0.8" height="0.8" fill="#f0d6d6"/><rect x="471.72" y="177.89" width="0.8" height="0.8" fill="#e8b4b4"/><rect x="469.39" y="186.97" width="0.8" height="0.8" fill="#e8b4b4"/><rect x="478.96" y="198.8" width="0.8" height="0.8" fill="#f0d6d6"/><rect x="472.23" y="185.95" width="0.8" height="0.8" fill="#d99494"/><rect x="461.46" y="195.72" width="0.8" height="0.8" fill="#e8b4b4"/><rect x="476.11" y="190.87" width="0.8" height="0.8" fill="#d8d4d8"/><rect x="469.83" y="195.01" width="0.8" height="0.8" fill="#d99494"/><rect x="499.39" y="179.72" width="0.8" height="0.8" fill="#e8b4b4"/><rect x="455.97" y="192.54" width="0.8" height="0.8" fill="#f0d6d6"/><rect x="468.59" y="180.62" width="0.8" height="0.8" fill="#e3a6a6"/><rect x="463.26" y="190.02" width="0.8" height="0.8" fill="#cfc8d0"/><rect x="468.41" y="191.11" width="0.8" height="0.8" fill="#c8c4cc"/><rect x="463.7" y="192.46" width="0.8" height="0.8" fill="#eec8c8"/><rect x="466.81" y="183.22" width="0.8" height="0.8" fill="#d99494"/><rect x="463.73" y="191.13" width="0.8" height="0.8" fill="#d99494"/><rect x="462.68" y="196.37" width="0.8" height="0.8" fill="#cfc8d0"/><rect x="460.84" y="189.5" width="0.8" height="0.8" fill="#e8b4b4"/><rect x="465.19" y="199.07" width="0.8" height="0.8" fill="#d8d4d8"/><rect x="465.46" y="192.64" width="0.8" height="0.8" fill="#d8d4d8"/><rect x="460.34" y="190.46" width="0.8" height="0.8" fill="#e3a6a6"/><rect x="466.94" y="191.85" width="0.8" height="0.8" fill="#d99494"/><rect x="455.88" y="202.34" width="0.8" height="0.8" fill="#e3a6a6"/><rect x="459.3" y="192.97" width="0.8" height="0.8" fill="#d99494"/><rect x="468.65" y="191.66" width="0.8" height="0.8" fill="#d99494"/><rect x="452.68" y="189.54" width="0.8" height="0.8" fill="#eec8c8"/><rect x="449.07" y="195.47" width="0.8" height="0.8" fill="#d99494"/><rect x="471.52" y="192.39" width="0.8" height="0.8" fill="#d99494"/><rect x="469.28" y="188.7" width="0.8" height="0.8" fill="#c8c4cc"/><rect x="463.25" y="183.18" width="0.8" height="0.8" fill="#f0d6d6"/><rect x="465.56" y="202.36" width="0.8" height="0.8" fill="#e8b4b4"/><rect x="474.66" y="185.93" width="0.8" height="0.8" fill="#e8b4b4"/><rect x="456.4" y="192.06" width="0.8" height="0.8" fill="#eec8c8"/><rect x="473.53" y="183.06" width="0.8" height="0.8" fill="#d99494"/><rect x="454.06" y="189.77" width="0.8" height="0.8" fill="#e3a6a6"/><rect x="461.9" y="191.58" width="0.8" height="0.8" fill="#c8c4cc"/><rect x="469.93" y="193.24" width="0.8" height="0.8" fill="#e3a6a6"/><rect x="470.11" y="188.22" width="0.8" height="0.8" fill="#d8d4d8"/><rect x="471.6" y="191.66" width="0.8" height="0.8" fill="#f0d6d6"/><rect x="476.48" y="187.79" width="0.8" height="0.8" fill="#e8b4b4"/><rect x="448" y="192.6" width="0.7" height="0.7" fill="#777"/><rect x="449.3" y="192.6" width="0.7" height="0.7" fill="#777"/><rect x="450.6" y="192.6" width="0.7" height="0.7" fill="#777"/><rect x="451.9" y="192.6" width="0.7" height="0.7" fill="#777"/><rect x="453.2" y="192.6" width="0.7" height="0.7" fill="#777"/><rect x="454.5" y="192.6" width="0.7" height="0.7" fill="#777"/><defs><radialGradient id="bg1"><stop offset="0" stop-color="#5cb8ec"/><stop offset="0.75" stop-color="#66bdee"/><stop offset="1" stop-color="#acdaf5" stop-opacity="0.5"/></radialGradient></defs><path d="M449,197 C450,194.5 453,194.2 455.5,195 C458.5,196 460.5,198.5 460.3,201.5 C460,204.5 457.5,206.8 454,206.8 C450.5,206.8 448,204.5 448,201.5 C448,199.5 448.3,198 449,197 Z" fill="url(#bg1)"/><path d="M441.4,210.6h-2.4 M441.4,210.6v2.4 M441.4,197.13h-2.4 M454.35,210.6v2.4 M441.4,183.66h-2.4 M467.3,210.6v2.4 M441.4,170.19h-2.4 M480.25,210.6v2.4 M441.4,156.72h-2.4 M493.2,210.6v2.4 M441.4,143.25h-2.4 M506.15,210.6v2.4 M441.4,210.6h-1.3 M441.4,210.6v1.3 M441.4,207.91h-1.3 M443.99,210.6v1.3 M441.4,205.21h-1.3 M446.58,210.6v1.3 M441.4,202.52h-1.3 M449.17,210.6v1.3 M441.4,199.82h-1.3 M451.76,210.6v1.3 M441.4,197.13h-1.3 M454.35,210.6v1.3 M441.4,194.44h-1.3 M456.94,210.6v1.3 M441.4,191.74h-1.3 M459.53,210.6v1.3 M441.4,189.05h-1.3 M462.12,210.6v1.3 M441.4,186.35h-1.3 M464.71,210.6v1.3 M441.4,183.66h-1.3 M467.3,210.6v1.3 M441.4,180.97h-1.3 M469.89,210.6v1.3 M441.4,178.27h-1.3 M472.48,210.6v1.3 M441.4,175.58h-1.3 M475.07,210.6v1.3 M441.4,172.88h-1.3 M477.66,210.6v1.3 M441.4,170.19h-1.3 M480.25,210.6v1.3 M441.4,167.5h-1.3 M482.84,210.6v1.3 M441.4,164.8h-1.3 M485.43,210.6v1.3 M441.4,162.11h-1.3 M488.02,210.6v1.3 M441.4,159.41h-1.3 M490.61,210.6v1.3 M441.4,156.72h-1.3 M493.2,210.6v1.3 M441.4,154.03h-1.3 M495.79,210.6v1.3 M441.4,151.33h-1.3 M498.38,210.6v1.3 M441.4,148.64h-1.3 M500.97,210.6v1.3 M441.4,145.94h-1.3 M503.56,210.6v1.3 M441.4,143.25h-1.3 M506.15,210.6v1.3" stroke="#111" stroke-width="0.7" fill="none"/><rect x="441.4" y="140.5" width="67.8" height="70.1" fill="none" stroke="#111" stroke-width="1.1"/><text x="435.7" y="212.8" font-size="6.3" text-anchor="end">0</text><text x="445.3" y="220.6" font-size="6.5" text-anchor="end" transform="rotate(-45 445.3 220.6)">0</text><text x="435.7" y="199.33" font-size="6.3" text-anchor="end">50K</text><text x="458.25" y="220.6" font-size="6.5" text-anchor="end" transform="rotate(-45 458.25 220.6)">50K</text><text x="435.7" y="185.86" font-size="6.3" text-anchor="end">100K</text><text x="471.2" y="220.6" font-size="6.5" text-anchor="end" transform="rotate(-45 471.2 220.6)">100K</text><text x="435.7" y="172.39" font-size="6.3" text-anchor="end">150K</text><text x="484.15" y="220.6" font-size="6.5" text-anchor="end" transform="rotate(-45 484.15 220.6)">150K</text><text x="435.7" y="158.92" font-size="6.3" text-anchor="end">200K</text><text x="497.1" y="220.6" font-size="6.5" text-anchor="end" transform="rotate(-45 497.1 220.6)">200K</text><text x="435.7" y="145.45" font-size="6.3" text-anchor="end">250K</text><text x="510.05" y="220.6" font-size="6.5" text-anchor="end" transform="rotate(-45 510.05 220.6)">250K</text><text x="475.3" y="243.4" font-size="9.1" text-anchor="middle" textLength="21.8" lengthAdjust="spacingAndGlyphs">FSC-A</text><text x="416" y="175.6" font-size="9.1" text-anchor="middle" textLength="22.5" lengthAdjust="spacingAndGlyphs" transform="rotate(-90 416 175.6)">SSC-A</text><rect x="46.25" y="300.9" width="13.7" height="26.47" fill="#a9002a"/><rect x="46.25" y="327.37" width="13.7" height="55.84" fill="#2f4c7a"/><rect x="46.25" y="383.21" width="13.7" height="1.99" fill="#66ae48"/><path d="M53.1,300.9V299.99M49.8,299.99H56.4" stroke="#1a1a1a" stroke-width="1.1" fill="none"/><path d="M53.1,327.37V326.1M49.8,326.1H56.4" stroke="#2a0a10" stroke-width="1.1" fill="none"/><path d="M49.8,382.61H56.4" stroke="#14203a" stroke-width="1.1" fill="none"/><rect x="65.32" y="302.07" width="13.7" height="29.19" fill="#a9002a"/><rect x="65.32" y="331.26" width="13.7" height="51.94" fill="#2f4c7a"/><rect x="65.32" y="383.21" width="13.7" height="1.99" fill="#66ae48"/><path d="M72.17,302.07V301.26M68.87,301.26H75.47" stroke="#1a1a1a" stroke-width="1.1" fill="none"/><path d="M72.17,331.26V330.27M68.87,330.27H75.47" stroke="#2a0a10" stroke-width="1.1" fill="none"/><path d="M68.87,382.61H75.47" stroke="#14203a" stroke-width="1.1" fill="none"/><rect x="103.46" y="298.63" width="13.7" height="25.84" fill="#a9002a"/><rect x="103.46" y="324.46" width="13.7" height="56.66" fill="#2f4c7a"/><rect x="103.46" y="381.12" width="13.7" height="4.08" fill="#66ae48"/><path d="M110.31,298.63V296.18M107.01,296.18H113.61" stroke="#1a1a1a" stroke-width="1.1" fill="none"/><path d="M110.31,324.46V321.75M107.01,321.75H113.61" stroke="#2a0a10" stroke-width="1.1" fill="none"/><path d="M107.01,380.52H113.61" stroke="#14203a" stroke-width="1.1" fill="none"/><rect x="122.53" y="297.27" width="13.7" height="29.64" fill="#a9002a"/><rect x="122.53" y="326.91" width="13.7" height="57.56" fill="#2f4c7a"/><rect x="122.53" y="384.47" width="13.7" height="0.73" fill="#66ae48"/><path d="M129.38,297.27V294.37M126.08,294.37H132.68" stroke="#1a1a1a" stroke-width="1.1" fill="none"/><path d="M129.38,326.91V324.28M126.08,324.28H132.68" stroke="#2a0a10" stroke-width="1.1" fill="none"/><rect x="160.67" y="298.18" width="13.7" height="19.31" fill="#a9002a"/><rect x="160.67" y="317.48" width="13.7" height="66.99" fill="#2f4c7a"/><rect x="160.67" y="384.47" width="13.7" height="0.73" fill="#66ae48"/><path d="M167.52,298.18V297M164.22,297H170.82" stroke="#1a1a1a" stroke-width="1.1" fill="none"/><path d="M167.52,317.48V316.49M164.22,316.49H170.82" stroke="#2a0a10" stroke-width="1.1" fill="none"/><rect x="179.74" y="303.25" width="13.7" height="16.77" fill="#a9002a"/><rect x="179.74" y="320.02" width="13.7" height="62.46" fill="#2f4c7a"/><rect x="179.74" y="382.48" width="13.7" height="2.72" fill="#66ae48"/><path d="M186.59,303.25V300.17M183.29,300.17H189.89" stroke="#1a1a1a" stroke-width="1.1" fill="none"/><path d="M186.59,320.02V318.48M183.29,318.48H189.89" stroke="#2a0a10" stroke-width="1.1" fill="none"/><path d="M183.29,381.88H189.89" stroke="#14203a" stroke-width="1.1" fill="none"/><path d="M43.5,385.8V291.38" stroke="#111" stroke-width="1.1" fill="none"/><path d="M42.9,385.2H196.66" stroke="#111" stroke-width="1.25" fill="none"/><path d="M43.5,385.2h-3 M43.5,367.07h-3 M43.5,348.94h-3 M43.5,330.81h-3 M43.5,312.68h-3 M43.5,294.55h-3 M53.1,385.2v3 M72.17,385.2v3 M91.24,385.2v3 M110.31,385.2v3 M129.38,385.2v3 M148.45,385.2v3 M167.52,385.2v3 M186.59,385.2v3" stroke="#111" stroke-width="1.2" fill="none"/><text x="36.8" y="387.9" font-size="7.6" text-anchor="end">0</text><text x="36.8" y="369.77" font-size="7.6" text-anchor="end">20</text><text x="36.8" y="351.64" font-size="7.6" text-anchor="end">40</text><text x="36.8" y="333.51" font-size="7.6" text-anchor="end">60</text><text x="36.8" y="315.38" font-size="7.6" text-anchor="end">80</text><text x="36.8" y="297.25" font-size="7.6" text-anchor="end">100</text><text x="107.5" y="285.4" font-size="9.5">Blood</text><text x="56.6" y="397.9" font-size="7.9" text-anchor="end" transform="rotate(-45 56.6 397.9)">RG SKI</text><text x="75.67" y="397.9" font-size="7.9" text-anchor="end" transform="rotate(-45 75.67 397.9)">RG SKI IL-6</text><text x="113.81" y="397.9" font-size="7.9" text-anchor="end" transform="rotate(-45 113.81 397.9)">RG SKI</text><text x="132.88" y="397.9" font-size="7.9" text-anchor="end" transform="rotate(-45 132.88 397.9)">RG SKI IL-6</text><text x="171.02" y="397.9" font-size="7.9" text-anchor="end" transform="rotate(-45 171.02 397.9)">RG SKI</text><text x="190.09" y="397.9" font-size="7.9" text-anchor="end" transform="rotate(-45 190.09 397.9)">RG SKI IL-6</text><path d="M40.74,428.6H84.53" stroke="#111" stroke-width="1.2"/><text x="62.64" y="438.3" font-size="7.9" text-anchor="middle">Week 10</text><path d="M97.94,428.6H141.75" stroke="#111" stroke-width="1.2"/><text x="119.84" y="438.3" font-size="7.9" text-anchor="middle">Week 14</text><path d="M155.16,428.6H198.96" stroke="#111" stroke-width="1.2"/><text x="177.06" y="438.3" font-size="7.9" text-anchor="middle">Week 18</text><rect x="236.25" y="294.55" width="13.7" height="80.77" fill="#a9002a"/><rect x="236.25" y="375.32" width="13.7" height="4.26" fill="#2f4c7a"/><rect x="236.25" y="379.58" width="13.7" height="5.62" fill="#66ae48"/><path d="M243.1,294.55V294.01M239.8,294.01H246.4" stroke="#1a1a1a" stroke-width="1.1" fill="none"/><path d="M243.1,375.32V374.68M239.8,374.68H246.4" stroke="#2a0a10" stroke-width="1.1" fill="none"/><path d="M239.8,378.98H246.4" stroke="#14203a" stroke-width="1.1" fill="none"/><rect x="255.32" y="294.55" width="13.7" height="81.4" fill="#a9002a"/><rect x="255.32" y="375.95" width="13.7" height="4.08" fill="#2f4c7a"/><rect x="255.32" y="380.03" width="13.7" height="5.17" fill="#66ae48"/><path d="M262.17,294.55V294.01M258.87,294.01H265.47" stroke="#1a1a1a" stroke-width="1.1" fill="none"/><path d="M262.17,375.95V375.32M258.87,375.32H265.47" stroke="#2a0a10" stroke-width="1.1" fill="none"/><path d="M258.87,379.43H265.47" stroke="#14203a" stroke-width="1.1" fill="none"/><rect x="293.46" y="294.19" width="13.7" height="81.4" fill="#a9002a"/><rect x="293.46" y="375.59" width="13.7" height="4.9" fill="#2f4c7a"/><rect x="293.46" y="380.49" width="13.7" height="4.71" fill="#66ae48"/><path d="M300.31,294.19V292.56M297.01,292.56H303.61" stroke="#1a1a1a" stroke-width="1.1" fill="none"/><path d="M300.31,375.59V374.96M297.01,374.96H303.61" stroke="#2a0a10" stroke-width="1.1" fill="none"/><path d="M297.01,379.89H303.61" stroke="#14203a" stroke-width="1.1" fill="none"/><rect x="312.53" y="294.55" width="13.7" height="83.4" fill="#a9002a"/><rect x="312.53" y="377.95" width="13.7" height="3.44" fill="#2f4c7a"/><rect x="312.53" y="381.39" width="13.7" height="3.81" fill="#66ae48"/><path d="M319.38,294.55V292.92M316.08,292.92H322.68" stroke="#1a1a1a" stroke-width="1.1" fill="none"/><path d="M319.38,377.95V377.31M316.08,377.31H322.68" stroke="#2a0a10" stroke-width="1.1" fill="none"/><path d="M316.08,380.79H322.68" stroke="#14203a" stroke-width="1.1" fill="none"/><rect x="350.67" y="295.18" width="13.7" height="73.34" fill="#a9002a"/><rect x="350.67" y="368.52" width="13.7" height="9.43" fill="#2f4c7a"/><rect x="350.67" y="377.95" width="13.7" height="4.17" fill="#66ae48"/><rect x="350.67" y="382.12" width="13.7" height="3.08" fill="#4a2060"/><path d="M357.52,295.18V292.92M354.22,292.92H360.82" stroke="#1a1a1a" stroke-width="1.1" fill="none"/><path d="M357.52,368.52V367.8M354.22,367.8H360.82" stroke="#2a0a10" stroke-width="1.1" fill="none"/><path d="M354.22,377.35H360.82" stroke="#14203a" stroke-width="1.1" fill="none"/><rect x="369.74" y="294.82" width="13.7" height="75.42" fill="#a9002a"/><rect x="369.74" y="370.24" width="13.7" height="7.71" fill="#2f4c7a"/><rect x="369.74" y="377.95" width="13.7" height="3.81" fill="#66ae48"/><rect x="369.74" y="381.76" width="13.7" height="3.44" fill="#4a2060"/><path d="M376.59,294.82V293.1M373.29,293.1H379.89" stroke="#1a1a1a" stroke-width="1.1" fill="none"/><path d="M376.59,370.24V369.34M373.29,369.34H379.89" stroke="#2a0a10" stroke-width="1.1" fill="none"/><path d="M373.29,377.35H379.89" stroke="#14203a" stroke-width="1.1" fill="none"/><path d="M233.5,385.8V291.38" stroke="#111" stroke-width="1.1" fill="none"/><path d="M232.9,385.2H386.66" stroke="#111" stroke-width="1.25" fill="none"/><path d="M233.5,385.2h-3 M233.5,367.07h-3 M233.5,348.94h-3 M233.5,330.81h-3 M233.5,312.68h-3 M233.5,294.55h-3 M243.1,385.2v3 M262.17,385.2v3 M281.24,385.2v3 M300.31,385.2v3 M319.38,385.2v3 M338.45,385.2v3 M357.52,385.2v3 M376.59,385.2v3" stroke="#111" stroke-width="1.2" fill="none"/><text x="226.8" y="387.9" font-size="7.6" text-anchor="end">0</text><text x="226.8" y="369.77" font-size="7.6" text-anchor="end">20</text><text x="226.8" y="351.64" font-size="7.6" text-anchor="end">40</text><text x="226.8" y="333.51" font-size="7.6" text-anchor="end">60</text><text x="226.8" y="315.38" font-size="7.6" text-anchor="end">80</text><text x="226.8" y="297.25" font-size="7.6" text-anchor="end">100</text><text x="302.2" y="285.6" font-size="10.2" textLength="14.2" lengthAdjust="spacingAndGlyphs">BM</text><text x="246.6" y="397.9" font-size="7.9" text-anchor="end" transform="rotate(-45 246.6 397.9)">RG SKI</text><text x="265.67" y="397.9" font-size="7.9" text-anchor="end" transform="rotate(-45 265.67 397.9)">RG SKI IL-6</text><text x="303.81" y="397.9" font-size="7.9" text-anchor="end" transform="rotate(-45 303.81 397.9)">RG SKI</text><text x="322.88" y="397.9" font-size="7.9" text-anchor="end" transform="rotate(-45 322.88 397.9)">RG SKI IL-6</text><text x="361.02" y="397.9" font-size="7.9" text-anchor="end" transform="rotate(-45 361.02 397.9)">RG SKI</text><text x="380.09" y="397.9" font-size="7.9" text-anchor="end" transform="rotate(-45 380.09 397.9)">RG SKI IL-6</text><path d="M230.73,428.6H274.53" stroke="#111" stroke-width="1.2"/><text x="252.63" y="438.3" font-size="7.9" text-anchor="middle">Week 10</text><path d="M287.95,428.6H331.75" stroke="#111" stroke-width="1.2"/><text x="309.85" y="438.3" font-size="7.9" text-anchor="middle">Week 14</text><path d="M345.16,428.6H388.95" stroke="#111" stroke-width="1.2"/><text x="367.06" y="438.3" font-size="7.9" text-anchor="middle">Week 18</text><rect x="46.25" y="479.01" width="13.7" height="40.61" fill="#a9002a"/><rect x="46.25" y="519.62" width="13.7" height="36.62" fill="#2f4c7a"/><rect x="46.25" y="556.24" width="13.7" height="2.36" fill="#66ae48"/><path d="M53.1,479.01V475.56M49.8,475.56H56.4" stroke="#1a1a1a" stroke-width="1.1" fill="none"/><path d="M53.1,519.62V518.26M49.8,518.26H56.4" stroke="#2a0a10" stroke-width="1.1" fill="none"/><path d="M49.8,555.64H56.4" stroke="#14203a" stroke-width="1.1" fill="none"/><rect x="65.32" y="474.66" width="13.7" height="41.43" fill="#a9002a"/><rect x="65.32" y="516.09" width="13.7" height="40.7" fill="#2f4c7a"/><rect x="65.32" y="556.79" width="13.7" height="1.81" fill="#66ae48"/><path d="M72.17,474.66V472.3M68.87,472.3H75.47" stroke="#1a1a1a" stroke-width="1.1" fill="none"/><path d="M72.17,516.09V514.54M68.87,514.54H75.47" stroke="#2a0a10" stroke-width="1.1" fill="none"/><path d="M68.87,556.19H75.47" stroke="#14203a" stroke-width="1.1" fill="none"/><rect x="103.46" y="476.11" width="13.7" height="37.17" fill="#a9002a"/><rect x="103.46" y="513.27" width="13.7" height="40.43" fill="#2f4c7a"/><rect x="103.46" y="553.7" width="13.7" height="4.9" fill="#66ae48"/><path d="M110.31,476.11V472.12M107.01,472.12H113.61" stroke="#1a1a1a" stroke-width="1.1" fill="none"/><path d="M110.31,513.27V511.28M107.01,511.28H113.61" stroke="#2a0a10" stroke-width="1.1" fill="none"/><path d="M107.01,553.1H113.61" stroke="#14203a" stroke-width="1.1" fill="none"/><rect x="122.53" y="477.29" width="13.7" height="45.05" fill="#a9002a"/><rect x="122.53" y="522.34" width="13.7" height="34.63" fill="#2f4c7a"/><rect x="122.53" y="556.97" width="13.7" height="1.63" fill="#66ae48"/><path d="M129.38,477.29V473.39M126.08,473.39H132.68" stroke="#1a1a1a" stroke-width="1.1" fill="none"/><path d="M129.38,522.34V521.25M126.08,521.25H132.68" stroke="#2a0a10" stroke-width="1.1" fill="none"/><path d="M126.08,556.37H132.68" stroke="#14203a" stroke-width="1.1" fill="none"/><rect x="160.67" y="469.67" width="13.7" height="31.27" fill="#a9002a"/><rect x="160.67" y="500.95" width="13.7" height="51.04" fill="#2f4c7a"/><rect x="160.67" y="551.98" width="13.7" height="5.71" fill="#66ae48"/><rect x="160.67" y="557.69" width="13.7" height="0.91" fill="#4a2060"/><path d="M167.52,469.67V467.04M164.22,467.04H170.82" stroke="#1a1a1a" stroke-width="1.1" fill="none"/><path d="M167.52,500.95V500.04M164.22,500.04H170.82" stroke="#2a0a10" stroke-width="1.1" fill="none"/><path d="M164.22,551.38H170.82" stroke="#14203a" stroke-width="1.1" fill="none"/><rect x="179.74" y="475.66" width="13.7" height="29.91" fill="#a9002a"/><rect x="179.74" y="505.57" width="13.7" height="46.96" fill="#2f4c7a"/><rect x="179.74" y="552.53" width="13.7" height="5.17" fill="#66ae48"/><rect x="179.74" y="557.69" width="13.7" height="0.91" fill="#4a2060"/><path d="M186.59,475.66V472.66M183.29,472.66H189.89" stroke="#1a1a1a" stroke-width="1.1" fill="none"/><path d="M186.59,505.57V503.85M183.29,503.85H189.89" stroke="#2a0a10" stroke-width="1.1" fill="none"/><path d="M183.29,551.93H189.89" stroke="#14203a" stroke-width="1.1" fill="none"/><path d="M43.5,559.2V464.78" stroke="#111" stroke-width="1.1" fill="none"/><path d="M42.9,558.6H196.66" stroke="#111" stroke-width="1.25" fill="none"/><path d="M43.5,558.6h-3 M43.5,540.47h-3 M43.5,522.34h-3 M43.5,504.21h-3 M43.5,486.08h-3 M43.5,467.95h-3 M53.1,558.6v3 M72.17,558.6v3 M91.24,558.6v3 M110.31,558.6v3 M129.38,558.6v3 M148.45,558.6v3 M167.52,558.6v3 M186.59,558.6v3" stroke="#111" stroke-width="1.2" fill="none"/><text x="36.8" y="561.3" font-size="7.6" text-anchor="end">0</text><text x="36.8" y="543.17" font-size="7.6" text-anchor="end">20</text><text x="36.8" y="525.04" font-size="7.6" text-anchor="end">40</text><text x="36.8" y="506.91" font-size="7.6" text-anchor="end">60</text><text x="36.8" y="488.78" font-size="7.6" text-anchor="end">80</text><text x="36.8" y="470.65" font-size="7.6" text-anchor="end">100</text><text x="104.7" y="459.1" font-size="9.5">Spleen</text><text x="56.6" y="571.3" font-size="7.9" text-anchor="end" transform="rotate(-45 56.6 571.3)">RG SKI</text><text x="75.67" y="571.3" font-size="7.9" text-anchor="end" transform="rotate(-45 75.67 571.3)">RG SKI IL-6</text><text x="113.81" y="571.3" font-size="7.9" text-anchor="end" transform="rotate(-45 113.81 571.3)">RG SKI</text><text x="132.88" y="571.3" font-size="7.9" text-anchor="end" transform="rotate(-45 132.88 571.3)">RG SKI IL-6</text><text x="171.02" y="571.3" font-size="7.9" text-anchor="end" transform="rotate(-45 171.02 571.3)">RG SKI</text><text x="190.09" y="571.3" font-size="7.9" text-anchor="end" transform="rotate(-45 190.09 571.3)">RG SKI IL-6</text><path d="M40.74,602H84.53" stroke="#111" stroke-width="1.2"/><text x="62.64" y="611.7" font-size="7.9" text-anchor="middle">Week 10</text><path d="M97.94,602H141.75" stroke="#111" stroke-width="1.2"/><text x="119.84" y="611.7" font-size="7.9" text-anchor="middle">Week 14</text><path d="M155.16,602H198.96" stroke="#111" stroke-width="1.2"/><text x="177.06" y="611.7" font-size="7.9" text-anchor="middle">Week 18</text><text x="7.5" y="284.8" font-size="12" font-weight="bold">B</text><text x="19" y="337.8" font-size="8.7" text-anchor="middle" transform="rotate(-90 19 337.8)">% of B cells</text><rect x="216" y="498.5" width="10" height="4.2" fill="#a9002a"/><text x="229" y="503.2" font-size="7.6">Immature / transitional B</text><rect x="216" y="509.88" width="10" height="4.2" fill="#2f4c7a"/><text x="229" y="514.58" font-size="7.6">Naive B</text><rect x="216" y="521.26" width="10" height="4.2" fill="#66ae48"/><text x="229" y="525.96" font-size="7.6">Memory B</text><rect x="216" y="532.64" width="10" height="4.2" fill="#4a2060"/><text x="229" y="537.34" font-size="7.6">Plasmblast</text></svg>
<div class="frame"></div>
</body></html>
